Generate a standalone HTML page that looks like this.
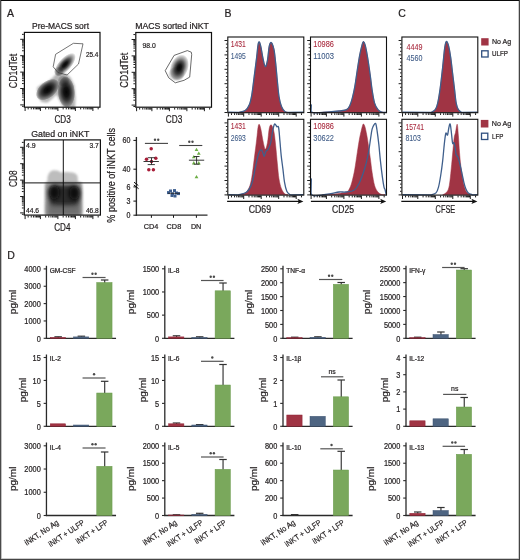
<!DOCTYPE html>
<html><head><meta charset="utf-8"><style>
html,body{margin:0;padding:0;background:#fff;width:520px;height:560px;overflow:hidden;}
body{position:relative;font-family:"Liberation Sans",sans-serif;}
</style></head><body>
<svg width="520" height="560" viewBox="0 0 520 560" style="position:absolute;left:0;top:0" font-family="Liberation Sans, sans-serif">
<defs>
<filter id="b1" x="-50%" y="-50%" width="200%" height="200%"><feGaussianBlur stdDeviation="1.2"/></filter>
<filter id="b2" x="-50%" y="-50%" width="200%" height="200%"><feGaussianBlur stdDeviation="2"/></filter>
<filter id="b3" x="-50%" y="-50%" width="200%" height="200%"><feGaussianBlur stdDeviation="3"/></filter>
<radialGradient id="gb"><stop offset="0" stop-color="#050505"/><stop offset="0.35" stop-color="#101010"/><stop offset="0.6" stop-color="#3e3e3e"/><stop offset="0.78" stop-color="#858585"/><stop offset="0.9" stop-color="#b5b5b5"/><stop offset="0.97" stop-color="#dadada"/><stop offset="1" stop-color="#ffffff"/></radialGradient>
<radialGradient id="gb2"><stop offset="0" stop-color="#050505"/><stop offset="0.22" stop-color="#141414"/><stop offset="0.48" stop-color="#505050"/><stop offset="0.7" stop-color="#9a9a9a"/><stop offset="0.88" stop-color="#d0d0d0"/><stop offset="1" stop-color="#ffffff"/></radialGradient>
<radialGradient id="gb3"><stop offset="0" stop-color="#060606"/><stop offset="0.3" stop-color="#1a1a1a"/><stop offset="0.55" stop-color="#4e4e4e"/><stop offset="0.75" stop-color="#8e8e8e"/><stop offset="0.9" stop-color="#bababa"/><stop offset="0.97" stop-color="#dedede"/><stop offset="1" stop-color="#ffffff"/></radialGradient>
<radialGradient id="gl"><stop offset="0" stop-color="#b0b0b0"/><stop offset="0.6" stop-color="#c4c4c4"/><stop offset="0.85" stop-color="#e0e0e0"/><stop offset="1" stop-color="#ffffff"/></radialGradient>
<clipPath id="cpA1"><rect x="25" y="33" width="75" height="74.5"/></clipPath>
<clipPath id="cpA2"><rect x="136" y="33" width="75" height="75.5"/></clipPath>
<clipPath id="cpA3"><rect x="25" y="140" width="75" height="75"/></clipPath>
</defs>
<rect width="520" height="560" fill="#fff"/>
<text x="7.1" y="17.2" font-size="10.5" text-anchor="start" fill="#231f20" stroke="#231f20" stroke-width="0.22">A</text>
<text x="224.6" y="17.2" font-size="10.5" text-anchor="start" fill="#231f20" stroke="#231f20" stroke-width="0.22">B</text>
<text x="398.3" y="17.2" font-size="10.5" text-anchor="start" fill="#231f20" stroke="#231f20" stroke-width="0.22">C</text>
<text x="7.2" y="258.6" font-size="10.5" text-anchor="start" fill="#231f20" stroke="#231f20" stroke-width="0.22">D</text>
<text x="60.5" y="28.8" font-size="9.1" text-anchor="middle" fill="#231f20" textLength="57" lengthAdjust="spacingAndGlyphs" stroke="#231f20" stroke-width="0.22">Pre-MACS sort</text>
<g clip-path="url(#cpA1)">
<g filter="url(#b1)">
<path d="M36.90,87.70 L38.10,96.90 L41.50,102.10 L47.30,102.70 L53.10,98.10 L56.50,94.60 L58.80,99.20 L62.30,105.60 L64.60,108.30 L75.00,108.30 L75.60,98.10 L74.40,85.40 L70.40,77.30 L65.80,73.80 L56.50,73.30 L53.10,77.30 L47.30,81.90 L41.50,84.20 Z" fill="#b4b4b4" stroke="none" stroke-width="1" stroke-linejoin="round" style="mix-blend-mode:multiply"/>
</g>
<ellipse cx="47.6" cy="89.6" rx="13.5" ry="8.2" transform="rotate(-40 47.6 89.6)" fill="url(#gb3)" style="mix-blend-mode:multiply"/>
<ellipse cx="66.3" cy="92" rx="8.7" ry="15.5" transform="rotate(-4 66.3 92)" fill="url(#gb3)" style="mix-blend-mode:multiply"/>
<ellipse cx="63.5" cy="81" rx="6" ry="6" transform="rotate(0 63.5 81)" fill="url(#gl)" style="mix-blend-mode:multiply"/>
<ellipse cx="65.0" cy="64.5" rx="6.5" ry="14.5" transform="rotate(42 65.0 64.5)" fill="url(#gb2)" style="mix-blend-mode:multiply"/>
<ellipse cx="59" cy="71.5" rx="5" ry="5" transform="rotate(0 59 71.5)" fill="url(#gl)" style="mix-blend-mode:multiply"/>
</g>
<path d="M55.60,54.30 L73.40,43.30 L83.00,43.80 L78.50,64.00 L67.10,75.00 L58.00,72.60 L53.20,66.80 Z" fill="none" stroke="#3a3a3a" stroke-width="0.7" stroke-linejoin="round"/>
<text x="85.9" y="56.6" font-size="7.5" text-anchor="start" fill="#231f20" textLength="12.5" lengthAdjust="spacingAndGlyphs" stroke="#231f20" stroke-width="0.22">25.4</text>
<rect x="24.4" y="32.4" width="75.6" height="74.8" fill="none" stroke="#111" stroke-width="1.2"/>
<line x1="20.2" y1="104.9" x2="23.8" y2="104.9" stroke="#111" stroke-width="0.95"/>
<line x1="22.0" y1="99.96" x2="23.8" y2="99.96" stroke="#111" stroke-width="0.95"/>
<line x1="22.0" y1="97.08" x2="23.8" y2="97.08" stroke="#111" stroke-width="0.95"/>
<line x1="22.0" y1="95.03" x2="23.8" y2="95.03" stroke="#111" stroke-width="0.95"/>
<line x1="22.0" y1="93.44" x2="23.8" y2="93.44" stroke="#111" stroke-width="0.95"/>
<line x1="22.0" y1="92.14" x2="23.8" y2="92.14" stroke="#111" stroke-width="0.95"/>
<line x1="22.0" y1="91.04" x2="23.8" y2="91.04" stroke="#111" stroke-width="0.95"/>
<line x1="22.0" y1="90.09" x2="23.8" y2="90.09" stroke="#111" stroke-width="0.95"/>
<line x1="22.0" y1="89.25" x2="23.8" y2="89.25" stroke="#111" stroke-width="0.95"/>
<line x1="20.2" y1="88.5" x2="23.8" y2="88.5" stroke="#111" stroke-width="0.95"/>
<line x1="22.0" y1="83.56" x2="23.8" y2="83.56" stroke="#111" stroke-width="0.95"/>
<line x1="22.0" y1="80.68" x2="23.8" y2="80.68" stroke="#111" stroke-width="0.95"/>
<line x1="22.0" y1="78.63" x2="23.8" y2="78.63" stroke="#111" stroke-width="0.95"/>
<line x1="22.0" y1="77.04" x2="23.8" y2="77.04" stroke="#111" stroke-width="0.95"/>
<line x1="22.0" y1="75.74" x2="23.8" y2="75.74" stroke="#111" stroke-width="0.95"/>
<line x1="22.0" y1="74.64" x2="23.8" y2="74.64" stroke="#111" stroke-width="0.95"/>
<line x1="22.0" y1="73.69" x2="23.8" y2="73.69" stroke="#111" stroke-width="0.95"/>
<line x1="22.0" y1="72.85" x2="23.8" y2="72.85" stroke="#111" stroke-width="0.95"/>
<line x1="20.2" y1="72.1" x2="23.8" y2="72.1" stroke="#111" stroke-width="0.95"/>
<line x1="22.0" y1="67.16" x2="23.8" y2="67.16" stroke="#111" stroke-width="0.95"/>
<line x1="22.0" y1="64.28" x2="23.8" y2="64.28" stroke="#111" stroke-width="0.95"/>
<line x1="22.0" y1="62.23" x2="23.8" y2="62.23" stroke="#111" stroke-width="0.95"/>
<line x1="22.0" y1="60.64" x2="23.8" y2="60.64" stroke="#111" stroke-width="0.95"/>
<line x1="22.0" y1="59.34" x2="23.8" y2="59.34" stroke="#111" stroke-width="0.95"/>
<line x1="22.0" y1="58.24" x2="23.8" y2="58.24" stroke="#111" stroke-width="0.95"/>
<line x1="22.0" y1="57.29" x2="23.8" y2="57.29" stroke="#111" stroke-width="0.95"/>
<line x1="22.0" y1="56.45" x2="23.8" y2="56.45" stroke="#111" stroke-width="0.95"/>
<line x1="20.2" y1="55.7" x2="23.8" y2="55.7" stroke="#111" stroke-width="0.95"/>
<line x1="22.0" y1="50.76" x2="23.8" y2="50.76" stroke="#111" stroke-width="0.95"/>
<line x1="22.0" y1="47.88" x2="23.8" y2="47.88" stroke="#111" stroke-width="0.95"/>
<line x1="22.0" y1="45.83" x2="23.8" y2="45.83" stroke="#111" stroke-width="0.95"/>
<line x1="22.0" y1="44.24" x2="23.8" y2="44.24" stroke="#111" stroke-width="0.95"/>
<line x1="22.0" y1="42.94" x2="23.8" y2="42.94" stroke="#111" stroke-width="0.95"/>
<line x1="22.0" y1="41.84" x2="23.8" y2="41.84" stroke="#111" stroke-width="0.95"/>
<line x1="22.0" y1="40.89" x2="23.8" y2="40.89" stroke="#111" stroke-width="0.95"/>
<line x1="22.0" y1="40.05" x2="23.8" y2="40.05" stroke="#111" stroke-width="0.95"/>
<line x1="20.2" y1="39.3" x2="23.8" y2="39.3" stroke="#111" stroke-width="0.95"/>
<line x1="22.0" y1="34.36" x2="23.8" y2="34.36" stroke="#111" stroke-width="0.95"/>
<line x1="22.0" y1="106.3" x2="23.8" y2="106.3" stroke="#111" stroke-width="0.95"/>
<line x1="25.1" y1="107.6" x2="25.1" y2="111.0" stroke="#111" stroke-width="0.95"/>
<line x1="28.17" y1="107.6" x2="28.17" y2="109.39999999999999" stroke="#111" stroke-width="0.95"/>
<line x1="31.25" y1="107.6" x2="31.25" y2="109.39999999999999" stroke="#111" stroke-width="0.95"/>
<line x1="33.44" y1="107.6" x2="33.44" y2="109.39999999999999" stroke="#111" stroke-width="0.95"/>
<line x1="35.13" y1="107.6" x2="35.13" y2="109.39999999999999" stroke="#111" stroke-width="0.95"/>
<line x1="36.52" y1="107.6" x2="36.52" y2="109.39999999999999" stroke="#111" stroke-width="0.95"/>
<line x1="37.69" y1="107.6" x2="37.69" y2="109.39999999999999" stroke="#111" stroke-width="0.95"/>
<line x1="38.7" y1="107.6" x2="38.7" y2="109.39999999999999" stroke="#111" stroke-width="0.95"/>
<line x1="39.6" y1="107.6" x2="39.6" y2="109.39999999999999" stroke="#111" stroke-width="0.95"/>
<line x1="40.4" y1="107.6" x2="40.4" y2="111.0" stroke="#111" stroke-width="0.95"/>
<line x1="45.67" y1="107.6" x2="45.67" y2="109.39999999999999" stroke="#111" stroke-width="0.95"/>
<line x1="48.75" y1="107.6" x2="48.75" y2="109.39999999999999" stroke="#111" stroke-width="0.95"/>
<line x1="50.94" y1="107.6" x2="50.94" y2="109.39999999999999" stroke="#111" stroke-width="0.95"/>
<line x1="52.63" y1="107.6" x2="52.63" y2="109.39999999999999" stroke="#111" stroke-width="0.95"/>
<line x1="54.02" y1="107.6" x2="54.02" y2="109.39999999999999" stroke="#111" stroke-width="0.95"/>
<line x1="55.19" y1="107.6" x2="55.19" y2="109.39999999999999" stroke="#111" stroke-width="0.95"/>
<line x1="56.2" y1="107.6" x2="56.2" y2="109.39999999999999" stroke="#111" stroke-width="0.95"/>
<line x1="57.1" y1="107.6" x2="57.1" y2="109.39999999999999" stroke="#111" stroke-width="0.95"/>
<line x1="57.9" y1="107.6" x2="57.9" y2="111.0" stroke="#111" stroke-width="0.95"/>
<line x1="63.17" y1="107.6" x2="63.17" y2="109.39999999999999" stroke="#111" stroke-width="0.95"/>
<line x1="66.25" y1="107.6" x2="66.25" y2="109.39999999999999" stroke="#111" stroke-width="0.95"/>
<line x1="68.44" y1="107.6" x2="68.44" y2="109.39999999999999" stroke="#111" stroke-width="0.95"/>
<line x1="70.13" y1="107.6" x2="70.13" y2="109.39999999999999" stroke="#111" stroke-width="0.95"/>
<line x1="71.52" y1="107.6" x2="71.52" y2="109.39999999999999" stroke="#111" stroke-width="0.95"/>
<line x1="72.69" y1="107.6" x2="72.69" y2="109.39999999999999" stroke="#111" stroke-width="0.95"/>
<line x1="73.7" y1="107.6" x2="73.7" y2="109.39999999999999" stroke="#111" stroke-width="0.95"/>
<line x1="74.6" y1="107.6" x2="74.6" y2="109.39999999999999" stroke="#111" stroke-width="0.95"/>
<line x1="75.4" y1="107.6" x2="75.4" y2="111.0" stroke="#111" stroke-width="0.95"/>
<line x1="80.67" y1="107.6" x2="80.67" y2="109.39999999999999" stroke="#111" stroke-width="0.95"/>
<line x1="83.75" y1="107.6" x2="83.75" y2="109.39999999999999" stroke="#111" stroke-width="0.95"/>
<line x1="85.94" y1="107.6" x2="85.94" y2="109.39999999999999" stroke="#111" stroke-width="0.95"/>
<line x1="87.63" y1="107.6" x2="87.63" y2="109.39999999999999" stroke="#111" stroke-width="0.95"/>
<line x1="89.02" y1="107.6" x2="89.02" y2="109.39999999999999" stroke="#111" stroke-width="0.95"/>
<line x1="90.19" y1="107.6" x2="90.19" y2="109.39999999999999" stroke="#111" stroke-width="0.95"/>
<line x1="91.2" y1="107.6" x2="91.2" y2="109.39999999999999" stroke="#111" stroke-width="0.95"/>
<line x1="92.1" y1="107.6" x2="92.1" y2="109.39999999999999" stroke="#111" stroke-width="0.95"/>
<line x1="92.9" y1="107.6" x2="92.9" y2="111.0" stroke="#111" stroke-width="0.95"/>
<line x1="98.17" y1="107.6" x2="98.17" y2="109.39999999999999" stroke="#111" stroke-width="0.95"/>
<text x="62.6" y="123" font-size="10" text-anchor="middle" fill="#231f20" textLength="16.3" lengthAdjust="spacingAndGlyphs" stroke="#231f20" stroke-width="0.22">CD3</text>
<text x="17.0" y="71.0" font-size="10" text-anchor="middle" fill="#231f20" textLength="34.5" lengthAdjust="spacingAndGlyphs" transform="rotate(-90 17.0 71.0)" stroke="#231f20" stroke-width="0.22">CD1dTet</text>
<text x="172" y="29.0" font-size="9.1" text-anchor="middle" fill="#231f20" textLength="73.7" lengthAdjust="spacingAndGlyphs" stroke="#231f20" stroke-width="0.22">MACS sorted iNKT</text>
<g clip-path="url(#cpA2)">
<ellipse cx="176.5" cy="74" rx="8.5" ry="7.5" transform="rotate(0 176.5 74)" fill="url(#gl)" style="mix-blend-mode:multiply"/>
<ellipse cx="179.3" cy="67.5" rx="9" ry="13.5" transform="rotate(20 179.3 67.5)" fill="url(#gb2)" style="mix-blend-mode:multiply"/>
</g>
<path d="M165.20,70.70 L174.10,55.40 L187.30,50.60 L191.30,52.20 L191.70,54.60 L189.70,77.10 L184.10,80.30 L175.30,82.80 L168.80,77.90 Z" fill="none" stroke="#3a3a3a" stroke-width="0.75" stroke-linejoin="round"/>
<text x="142.5" y="48.4" font-size="7.5" text-anchor="start" fill="#231f20" textLength="13.3" lengthAdjust="spacingAndGlyphs" stroke="#231f20" stroke-width="0.22">98.0</text>
<rect x="135.8" y="32.5" width="75.7" height="74.7" fill="none" stroke="#111" stroke-width="1.2"/>
<line x1="131.6" y1="105.1" x2="135.2" y2="105.1" stroke="#111" stroke-width="0.95"/>
<line x1="133.39999999999998" y1="100.16" x2="135.2" y2="100.16" stroke="#111" stroke-width="0.95"/>
<line x1="133.39999999999998" y1="97.28" x2="135.2" y2="97.28" stroke="#111" stroke-width="0.95"/>
<line x1="133.39999999999998" y1="95.23" x2="135.2" y2="95.23" stroke="#111" stroke-width="0.95"/>
<line x1="133.39999999999998" y1="93.64" x2="135.2" y2="93.64" stroke="#111" stroke-width="0.95"/>
<line x1="133.39999999999998" y1="92.34" x2="135.2" y2="92.34" stroke="#111" stroke-width="0.95"/>
<line x1="133.39999999999998" y1="91.24" x2="135.2" y2="91.24" stroke="#111" stroke-width="0.95"/>
<line x1="133.39999999999998" y1="90.29" x2="135.2" y2="90.29" stroke="#111" stroke-width="0.95"/>
<line x1="133.39999999999998" y1="89.45" x2="135.2" y2="89.45" stroke="#111" stroke-width="0.95"/>
<line x1="131.6" y1="88.7" x2="135.2" y2="88.7" stroke="#111" stroke-width="0.95"/>
<line x1="133.39999999999998" y1="83.76" x2="135.2" y2="83.76" stroke="#111" stroke-width="0.95"/>
<line x1="133.39999999999998" y1="80.88" x2="135.2" y2="80.88" stroke="#111" stroke-width="0.95"/>
<line x1="133.39999999999998" y1="78.83" x2="135.2" y2="78.83" stroke="#111" stroke-width="0.95"/>
<line x1="133.39999999999998" y1="77.24" x2="135.2" y2="77.24" stroke="#111" stroke-width="0.95"/>
<line x1="133.39999999999998" y1="75.94" x2="135.2" y2="75.94" stroke="#111" stroke-width="0.95"/>
<line x1="133.39999999999998" y1="74.84" x2="135.2" y2="74.84" stroke="#111" stroke-width="0.95"/>
<line x1="133.39999999999998" y1="73.89" x2="135.2" y2="73.89" stroke="#111" stroke-width="0.95"/>
<line x1="133.39999999999998" y1="73.05" x2="135.2" y2="73.05" stroke="#111" stroke-width="0.95"/>
<line x1="131.6" y1="72.3" x2="135.2" y2="72.3" stroke="#111" stroke-width="0.95"/>
<line x1="133.39999999999998" y1="67.36" x2="135.2" y2="67.36" stroke="#111" stroke-width="0.95"/>
<line x1="133.39999999999998" y1="64.48" x2="135.2" y2="64.48" stroke="#111" stroke-width="0.95"/>
<line x1="133.39999999999998" y1="62.43" x2="135.2" y2="62.43" stroke="#111" stroke-width="0.95"/>
<line x1="133.39999999999998" y1="60.84" x2="135.2" y2="60.84" stroke="#111" stroke-width="0.95"/>
<line x1="133.39999999999998" y1="59.54" x2="135.2" y2="59.54" stroke="#111" stroke-width="0.95"/>
<line x1="133.39999999999998" y1="58.44" x2="135.2" y2="58.44" stroke="#111" stroke-width="0.95"/>
<line x1="133.39999999999998" y1="57.49" x2="135.2" y2="57.49" stroke="#111" stroke-width="0.95"/>
<line x1="133.39999999999998" y1="56.65" x2="135.2" y2="56.65" stroke="#111" stroke-width="0.95"/>
<line x1="131.6" y1="55.9" x2="135.2" y2="55.9" stroke="#111" stroke-width="0.95"/>
<line x1="133.39999999999998" y1="50.96" x2="135.2" y2="50.96" stroke="#111" stroke-width="0.95"/>
<line x1="133.39999999999998" y1="48.08" x2="135.2" y2="48.08" stroke="#111" stroke-width="0.95"/>
<line x1="133.39999999999998" y1="46.03" x2="135.2" y2="46.03" stroke="#111" stroke-width="0.95"/>
<line x1="133.39999999999998" y1="44.44" x2="135.2" y2="44.44" stroke="#111" stroke-width="0.95"/>
<line x1="133.39999999999998" y1="43.14" x2="135.2" y2="43.14" stroke="#111" stroke-width="0.95"/>
<line x1="133.39999999999998" y1="42.04" x2="135.2" y2="42.04" stroke="#111" stroke-width="0.95"/>
<line x1="133.39999999999998" y1="41.09" x2="135.2" y2="41.09" stroke="#111" stroke-width="0.95"/>
<line x1="133.39999999999998" y1="40.25" x2="135.2" y2="40.25" stroke="#111" stroke-width="0.95"/>
<line x1="131.6" y1="39.5" x2="135.2" y2="39.5" stroke="#111" stroke-width="0.95"/>
<line x1="133.39999999999998" y1="34.56" x2="135.2" y2="34.56" stroke="#111" stroke-width="0.95"/>
<line x1="133.39999999999998" y1="106.5" x2="135.2" y2="106.5" stroke="#111" stroke-width="0.95"/>
<line x1="136.6" y1="107.8" x2="136.6" y2="111.2" stroke="#111" stroke-width="0.95"/>
<line x1="139.67" y1="107.8" x2="139.67" y2="109.6" stroke="#111" stroke-width="0.95"/>
<line x1="142.75" y1="107.8" x2="142.75" y2="109.6" stroke="#111" stroke-width="0.95"/>
<line x1="144.94" y1="107.8" x2="144.94" y2="109.6" stroke="#111" stroke-width="0.95"/>
<line x1="146.63" y1="107.8" x2="146.63" y2="109.6" stroke="#111" stroke-width="0.95"/>
<line x1="148.02" y1="107.8" x2="148.02" y2="109.6" stroke="#111" stroke-width="0.95"/>
<line x1="149.19" y1="107.8" x2="149.19" y2="109.6" stroke="#111" stroke-width="0.95"/>
<line x1="150.2" y1="107.8" x2="150.2" y2="109.6" stroke="#111" stroke-width="0.95"/>
<line x1="151.1" y1="107.8" x2="151.1" y2="109.6" stroke="#111" stroke-width="0.95"/>
<line x1="151.9" y1="107.8" x2="151.9" y2="111.2" stroke="#111" stroke-width="0.95"/>
<line x1="157.17" y1="107.8" x2="157.17" y2="109.6" stroke="#111" stroke-width="0.95"/>
<line x1="160.25" y1="107.8" x2="160.25" y2="109.6" stroke="#111" stroke-width="0.95"/>
<line x1="162.44" y1="107.8" x2="162.44" y2="109.6" stroke="#111" stroke-width="0.95"/>
<line x1="164.13" y1="107.8" x2="164.13" y2="109.6" stroke="#111" stroke-width="0.95"/>
<line x1="165.52" y1="107.8" x2="165.52" y2="109.6" stroke="#111" stroke-width="0.95"/>
<line x1="166.69" y1="107.8" x2="166.69" y2="109.6" stroke="#111" stroke-width="0.95"/>
<line x1="167.7" y1="107.8" x2="167.7" y2="109.6" stroke="#111" stroke-width="0.95"/>
<line x1="168.6" y1="107.8" x2="168.6" y2="109.6" stroke="#111" stroke-width="0.95"/>
<line x1="169.4" y1="107.8" x2="169.4" y2="111.2" stroke="#111" stroke-width="0.95"/>
<line x1="174.67" y1="107.8" x2="174.67" y2="109.6" stroke="#111" stroke-width="0.95"/>
<line x1="177.75" y1="107.8" x2="177.75" y2="109.6" stroke="#111" stroke-width="0.95"/>
<line x1="179.94" y1="107.8" x2="179.94" y2="109.6" stroke="#111" stroke-width="0.95"/>
<line x1="181.63" y1="107.8" x2="181.63" y2="109.6" stroke="#111" stroke-width="0.95"/>
<line x1="183.02" y1="107.8" x2="183.02" y2="109.6" stroke="#111" stroke-width="0.95"/>
<line x1="184.19" y1="107.8" x2="184.19" y2="109.6" stroke="#111" stroke-width="0.95"/>
<line x1="185.2" y1="107.8" x2="185.2" y2="109.6" stroke="#111" stroke-width="0.95"/>
<line x1="186.1" y1="107.8" x2="186.1" y2="109.6" stroke="#111" stroke-width="0.95"/>
<line x1="186.9" y1="107.8" x2="186.9" y2="111.2" stroke="#111" stroke-width="0.95"/>
<line x1="192.17" y1="107.8" x2="192.17" y2="109.6" stroke="#111" stroke-width="0.95"/>
<line x1="195.25" y1="107.8" x2="195.25" y2="109.6" stroke="#111" stroke-width="0.95"/>
<line x1="197.44" y1="107.8" x2="197.44" y2="109.6" stroke="#111" stroke-width="0.95"/>
<line x1="199.13" y1="107.8" x2="199.13" y2="109.6" stroke="#111" stroke-width="0.95"/>
<line x1="200.52" y1="107.8" x2="200.52" y2="109.6" stroke="#111" stroke-width="0.95"/>
<line x1="201.69" y1="107.8" x2="201.69" y2="109.6" stroke="#111" stroke-width="0.95"/>
<line x1="202.7" y1="107.8" x2="202.7" y2="109.6" stroke="#111" stroke-width="0.95"/>
<line x1="203.6" y1="107.8" x2="203.6" y2="109.6" stroke="#111" stroke-width="0.95"/>
<line x1="204.4" y1="107.8" x2="204.4" y2="111.2" stroke="#111" stroke-width="0.95"/>
<line x1="209.67" y1="107.8" x2="209.67" y2="109.6" stroke="#111" stroke-width="0.95"/>
<text x="174" y="123" font-size="10" text-anchor="middle" fill="#231f20" textLength="16.5" lengthAdjust="spacingAndGlyphs" stroke="#231f20" stroke-width="0.22">CD3</text>
<text x="128.3" y="70.3" font-size="10" text-anchor="middle" fill="#231f20" textLength="35" lengthAdjust="spacingAndGlyphs" transform="rotate(-90 128.3 70.3)" stroke="#231f20" stroke-width="0.22">CD1dTet</text>
<text x="60.3" y="136.8" font-size="9.1" text-anchor="middle" fill="#231f20" textLength="58.3" lengthAdjust="spacingAndGlyphs" stroke="#231f20" stroke-width="0.22">Gated on iNKT</text>
<g clip-path="url(#cpA3)">
<g filter="url(#b1)">
<path d="M47.2,184 L47.5,177 Q49,170.5 54,170.3 Q58.5,170.3 61,172.5 Q65,171.5 70,172.2 Q76,172.5 77.5,176 L78.2,184 Z" fill="#bdbdbd"/>
<rect x="44.8" y="182" width="37.5" height="34" rx="3" fill="#a0a0a0"/>
</g>
<g filter="url(#b2)">
<rect x="47.5" y="202" width="33" height="14" rx="2" fill="#6e6e6e"/>
<rect x="48.5" y="185" width="31.5" height="21" rx="6" fill="#2c2c2c"/>
</g>
<g filter="url(#b2)">
<ellipse cx="54.4" cy="192.5" rx="5.2" ry="7" fill="#080808"/>
<ellipse cx="74.1" cy="193" rx="5.2" ry="7" fill="#080808"/>
</g>
</g>
<line x1="63.3" y1="140" x2="63.3" y2="215" stroke="#111" stroke-width="1"/>
<line x1="24.5" y1="182.9" x2="100.4" y2="182.9" stroke="#111" stroke-width="1"/>
<text x="26.0" y="147.7" font-size="7.5" text-anchor="start" fill="#231f20" textLength="9.7" lengthAdjust="spacingAndGlyphs" stroke="#231f20" stroke-width="0.22">4.9</text>
<text x="89.5" y="147.7" font-size="7.5" text-anchor="start" fill="#231f20" textLength="9.3" lengthAdjust="spacingAndGlyphs" stroke="#231f20" stroke-width="0.22">3.7</text>
<text x="26.0" y="213.3" font-size="7.5" text-anchor="start" fill="#231f20" textLength="13.1" lengthAdjust="spacingAndGlyphs" stroke="#231f20" stroke-width="0.22">44.6</text>
<text x="85.9" y="213.3" font-size="7.5" text-anchor="start" fill="#231f20" textLength="12.9" lengthAdjust="spacingAndGlyphs" stroke="#231f20" stroke-width="0.22">46.8</text>
<rect x="24.3" y="139.9" width="76.1" height="75.2" fill="none" stroke="#111" stroke-width="1.2"/>
<line x1="20.099999999999998" y1="212.9" x2="23.7" y2="212.9" stroke="#111" stroke-width="0.95"/>
<line x1="21.9" y1="207.96" x2="23.7" y2="207.96" stroke="#111" stroke-width="0.95"/>
<line x1="21.9" y1="205.08" x2="23.7" y2="205.08" stroke="#111" stroke-width="0.95"/>
<line x1="21.9" y1="203.03" x2="23.7" y2="203.03" stroke="#111" stroke-width="0.95"/>
<line x1="21.9" y1="201.44" x2="23.7" y2="201.44" stroke="#111" stroke-width="0.95"/>
<line x1="21.9" y1="200.14" x2="23.7" y2="200.14" stroke="#111" stroke-width="0.95"/>
<line x1="21.9" y1="199.04" x2="23.7" y2="199.04" stroke="#111" stroke-width="0.95"/>
<line x1="21.9" y1="198.09" x2="23.7" y2="198.09" stroke="#111" stroke-width="0.95"/>
<line x1="21.9" y1="197.25" x2="23.7" y2="197.25" stroke="#111" stroke-width="0.95"/>
<line x1="20.099999999999998" y1="196.5" x2="23.7" y2="196.5" stroke="#111" stroke-width="0.95"/>
<line x1="21.9" y1="191.56" x2="23.7" y2="191.56" stroke="#111" stroke-width="0.95"/>
<line x1="21.9" y1="188.68" x2="23.7" y2="188.68" stroke="#111" stroke-width="0.95"/>
<line x1="21.9" y1="186.63" x2="23.7" y2="186.63" stroke="#111" stroke-width="0.95"/>
<line x1="21.9" y1="185.04" x2="23.7" y2="185.04" stroke="#111" stroke-width="0.95"/>
<line x1="21.9" y1="183.74" x2="23.7" y2="183.74" stroke="#111" stroke-width="0.95"/>
<line x1="21.9" y1="182.64" x2="23.7" y2="182.64" stroke="#111" stroke-width="0.95"/>
<line x1="21.9" y1="181.69" x2="23.7" y2="181.69" stroke="#111" stroke-width="0.95"/>
<line x1="21.9" y1="180.85" x2="23.7" y2="180.85" stroke="#111" stroke-width="0.95"/>
<line x1="20.099999999999998" y1="180.1" x2="23.7" y2="180.1" stroke="#111" stroke-width="0.95"/>
<line x1="21.9" y1="175.16" x2="23.7" y2="175.16" stroke="#111" stroke-width="0.95"/>
<line x1="21.9" y1="172.28" x2="23.7" y2="172.28" stroke="#111" stroke-width="0.95"/>
<line x1="21.9" y1="170.23" x2="23.7" y2="170.23" stroke="#111" stroke-width="0.95"/>
<line x1="21.9" y1="168.64" x2="23.7" y2="168.64" stroke="#111" stroke-width="0.95"/>
<line x1="21.9" y1="167.34" x2="23.7" y2="167.34" stroke="#111" stroke-width="0.95"/>
<line x1="21.9" y1="166.24" x2="23.7" y2="166.24" stroke="#111" stroke-width="0.95"/>
<line x1="21.9" y1="165.29" x2="23.7" y2="165.29" stroke="#111" stroke-width="0.95"/>
<line x1="21.9" y1="164.45" x2="23.7" y2="164.45" stroke="#111" stroke-width="0.95"/>
<line x1="20.099999999999998" y1="163.7" x2="23.7" y2="163.7" stroke="#111" stroke-width="0.95"/>
<line x1="21.9" y1="158.76" x2="23.7" y2="158.76" stroke="#111" stroke-width="0.95"/>
<line x1="21.9" y1="155.88" x2="23.7" y2="155.88" stroke="#111" stroke-width="0.95"/>
<line x1="21.9" y1="153.83" x2="23.7" y2="153.83" stroke="#111" stroke-width="0.95"/>
<line x1="21.9" y1="152.24" x2="23.7" y2="152.24" stroke="#111" stroke-width="0.95"/>
<line x1="21.9" y1="150.94" x2="23.7" y2="150.94" stroke="#111" stroke-width="0.95"/>
<line x1="21.9" y1="149.84" x2="23.7" y2="149.84" stroke="#111" stroke-width="0.95"/>
<line x1="21.9" y1="148.89" x2="23.7" y2="148.89" stroke="#111" stroke-width="0.95"/>
<line x1="21.9" y1="148.05" x2="23.7" y2="148.05" stroke="#111" stroke-width="0.95"/>
<line x1="20.099999999999998" y1="147.3" x2="23.7" y2="147.3" stroke="#111" stroke-width="0.95"/>
<line x1="21.9" y1="142.36" x2="23.7" y2="142.36" stroke="#111" stroke-width="0.95"/>
<line x1="21.9" y1="214.3" x2="23.7" y2="214.3" stroke="#111" stroke-width="0.95"/>
<line x1="25.1" y1="215.7" x2="25.1" y2="219.1" stroke="#111" stroke-width="0.95"/>
<line x1="28.17" y1="215.7" x2="28.17" y2="217.5" stroke="#111" stroke-width="0.95"/>
<line x1="31.25" y1="215.7" x2="31.25" y2="217.5" stroke="#111" stroke-width="0.95"/>
<line x1="33.44" y1="215.7" x2="33.44" y2="217.5" stroke="#111" stroke-width="0.95"/>
<line x1="35.13" y1="215.7" x2="35.13" y2="217.5" stroke="#111" stroke-width="0.95"/>
<line x1="36.52" y1="215.7" x2="36.52" y2="217.5" stroke="#111" stroke-width="0.95"/>
<line x1="37.69" y1="215.7" x2="37.69" y2="217.5" stroke="#111" stroke-width="0.95"/>
<line x1="38.7" y1="215.7" x2="38.7" y2="217.5" stroke="#111" stroke-width="0.95"/>
<line x1="39.6" y1="215.7" x2="39.6" y2="217.5" stroke="#111" stroke-width="0.95"/>
<line x1="40.4" y1="215.7" x2="40.4" y2="219.1" stroke="#111" stroke-width="0.95"/>
<line x1="45.67" y1="215.7" x2="45.67" y2="217.5" stroke="#111" stroke-width="0.95"/>
<line x1="48.75" y1="215.7" x2="48.75" y2="217.5" stroke="#111" stroke-width="0.95"/>
<line x1="50.94" y1="215.7" x2="50.94" y2="217.5" stroke="#111" stroke-width="0.95"/>
<line x1="52.63" y1="215.7" x2="52.63" y2="217.5" stroke="#111" stroke-width="0.95"/>
<line x1="54.02" y1="215.7" x2="54.02" y2="217.5" stroke="#111" stroke-width="0.95"/>
<line x1="55.19" y1="215.7" x2="55.19" y2="217.5" stroke="#111" stroke-width="0.95"/>
<line x1="56.2" y1="215.7" x2="56.2" y2="217.5" stroke="#111" stroke-width="0.95"/>
<line x1="57.1" y1="215.7" x2="57.1" y2="217.5" stroke="#111" stroke-width="0.95"/>
<line x1="57.9" y1="215.7" x2="57.9" y2="219.1" stroke="#111" stroke-width="0.95"/>
<line x1="63.17" y1="215.7" x2="63.17" y2="217.5" stroke="#111" stroke-width="0.95"/>
<line x1="66.25" y1="215.7" x2="66.25" y2="217.5" stroke="#111" stroke-width="0.95"/>
<line x1="68.44" y1="215.7" x2="68.44" y2="217.5" stroke="#111" stroke-width="0.95"/>
<line x1="70.13" y1="215.7" x2="70.13" y2="217.5" stroke="#111" stroke-width="0.95"/>
<line x1="71.52" y1="215.7" x2="71.52" y2="217.5" stroke="#111" stroke-width="0.95"/>
<line x1="72.69" y1="215.7" x2="72.69" y2="217.5" stroke="#111" stroke-width="0.95"/>
<line x1="73.7" y1="215.7" x2="73.7" y2="217.5" stroke="#111" stroke-width="0.95"/>
<line x1="74.6" y1="215.7" x2="74.6" y2="217.5" stroke="#111" stroke-width="0.95"/>
<line x1="75.4" y1="215.7" x2="75.4" y2="219.1" stroke="#111" stroke-width="0.95"/>
<line x1="80.67" y1="215.7" x2="80.67" y2="217.5" stroke="#111" stroke-width="0.95"/>
<line x1="83.75" y1="215.7" x2="83.75" y2="217.5" stroke="#111" stroke-width="0.95"/>
<line x1="85.94" y1="215.7" x2="85.94" y2="217.5" stroke="#111" stroke-width="0.95"/>
<line x1="87.63" y1="215.7" x2="87.63" y2="217.5" stroke="#111" stroke-width="0.95"/>
<line x1="89.02" y1="215.7" x2="89.02" y2="217.5" stroke="#111" stroke-width="0.95"/>
<line x1="90.19" y1="215.7" x2="90.19" y2="217.5" stroke="#111" stroke-width="0.95"/>
<line x1="91.2" y1="215.7" x2="91.2" y2="217.5" stroke="#111" stroke-width="0.95"/>
<line x1="92.1" y1="215.7" x2="92.1" y2="217.5" stroke="#111" stroke-width="0.95"/>
<line x1="92.9" y1="215.7" x2="92.9" y2="219.1" stroke="#111" stroke-width="0.95"/>
<line x1="98.17" y1="215.7" x2="98.17" y2="217.5" stroke="#111" stroke-width="0.95"/>
<text x="62.3" y="230.8" font-size="10" text-anchor="middle" fill="#231f20" textLength="16.2" lengthAdjust="spacingAndGlyphs" stroke="#231f20" stroke-width="0.22">CD4</text>
<text x="17.1" y="178.6" font-size="10" text-anchor="middle" fill="#231f20" textLength="16.6" lengthAdjust="spacingAndGlyphs" transform="rotate(-90 17.1 178.6)" stroke="#231f20" stroke-width="0.22">CD8</text>
<text x="115.4" y="175.3" font-size="10" text-anchor="middle" fill="#231f20" textLength="94.7" lengthAdjust="spacingAndGlyphs" transform="rotate(-90 115.4 175.3)" stroke="#231f20" stroke-width="0.22">% positive of iNKT cells</text>
<line x1="136.4" y1="137" x2="136.4" y2="215.8" stroke="#2a2a2a" stroke-width="1.35"/>
<line x1="135.8" y1="215.2" x2="207.5" y2="215.2" stroke="#2a2a2a" stroke-width="1.3"/>
<line x1="134.0" y1="182.2" x2="138.3" y2="185.5" stroke="#111" stroke-width="1.0"/>
<line x1="133.8" y1="185.0" x2="138.6" y2="188.7" stroke="#111" stroke-width="1.0"/>
<line x1="133.4" y1="140.4" x2="136.4" y2="140.4" stroke="#111" stroke-width="1"/>
<text x="130.4" y="143.3" font-size="8.2" text-anchor="end" fill="#231f20" textLength="7.9" lengthAdjust="spacingAndGlyphs" stroke="#231f20" stroke-width="0.22">60</text>
<line x1="133.4" y1="169.2" x2="136.4" y2="169.2" stroke="#111" stroke-width="1"/>
<text x="130.4" y="172.1" font-size="8.2" text-anchor="end" fill="#231f20" textLength="7.9" lengthAdjust="spacingAndGlyphs" stroke="#231f20" stroke-width="0.22">40</text>
<line x1="133.4" y1="186.9" x2="136.4" y2="186.9" stroke="#111" stroke-width="1"/>
<text x="130.4" y="189.8" font-size="8.2" text-anchor="end" fill="#231f20" textLength="3.95" lengthAdjust="spacingAndGlyphs" stroke="#231f20" stroke-width="0.22">6</text>
<line x1="133.4" y1="201.1" x2="136.4" y2="201.1" stroke="#111" stroke-width="1"/>
<text x="130.4" y="204.0" font-size="8.2" text-anchor="end" fill="#231f20" textLength="3.95" lengthAdjust="spacingAndGlyphs" stroke="#231f20" stroke-width="0.22">3</text>
<line x1="133.4" y1="215.2" x2="136.4" y2="215.2" stroke="#111" stroke-width="1"/>
<text x="130.4" y="218.1" font-size="8.2" text-anchor="end" fill="#231f20" textLength="3.95" lengthAdjust="spacingAndGlyphs" stroke="#231f20" stroke-width="0.22">0</text>
<line x1="151.4" y1="215.2" x2="151.4" y2="217.8" stroke="#111" stroke-width="1"/>
<line x1="173.5" y1="215.2" x2="173.5" y2="217.8" stroke="#111" stroke-width="1"/>
<line x1="196.4" y1="215.2" x2="196.4" y2="217.8" stroke="#111" stroke-width="1"/>
<text x="151.1" y="229.0" font-size="7.7" text-anchor="middle" fill="#231f20" textLength="14.7" lengthAdjust="spacingAndGlyphs" stroke="#231f20" stroke-width="0.22">CD4</text>
<text x="173.9" y="229.0" font-size="7.7" text-anchor="middle" fill="#231f20" textLength="14.6" lengthAdjust="spacingAndGlyphs" stroke="#231f20" stroke-width="0.22">CD8</text>
<text x="196.1" y="229.0" font-size="7.7" text-anchor="middle" fill="#231f20" textLength="10.4" lengthAdjust="spacingAndGlyphs" stroke="#231f20" stroke-width="0.22">DN</text>
<line x1="144.9" y1="143.4" x2="168" y2="143.4" stroke="#444" stroke-width="1.1"/>
<circle cx="155.0" cy="139.8" r="1.2" fill="#4a4a4a"/><circle cx="158.2" cy="139.8" r="1.2" fill="#4a4a4a"/>
<line x1="179.2" y1="145.5" x2="202.3" y2="145.5" stroke="#444" stroke-width="1.1"/>
<circle cx="189.3" cy="141.8" r="1.2" fill="#4a4a4a"/><circle cx="192.5" cy="141.8" r="1.2" fill="#4a4a4a"/>
<circle cx="151.2" cy="148.8" r="1.75" fill="#a81d38"/>
<circle cx="146.5" cy="159.2" r="1.75" fill="#a81d38"/>
<circle cx="155.8" cy="158.2" r="1.75" fill="#a81d38"/>
<circle cx="151.5" cy="161.5" r="1.75" fill="#a81d38"/>
<circle cx="148.8" cy="169.7" r="1.75" fill="#a81d38"/>
<circle cx="153.4" cy="169.7" r="1.75" fill="#a81d38"/>
<line x1="143.5" y1="161.5" x2="158.9" y2="161.5" stroke="#222" stroke-width="0.9"/>
<line x1="151.5" y1="157.7" x2="151.5" y2="164.6" stroke="#222" stroke-width="0.9"/>
<line x1="147.7" y1="157.7" x2="154.9" y2="157.7" stroke="#222" stroke-width="0.9"/>
<line x1="147.7" y1="164.6" x2="154.9" y2="164.6" stroke="#222" stroke-width="0.9"/>
<path d="M196.5,147.7 L198.4,151.1 L194.6,151.1 Z" fill="#6dae45"/>
<path d="M198.8,151.4 L200.70000000000002,154.8 L196.9,154.8 Z" fill="#6dae45"/>
<path d="M193.8,154.9 L195.70000000000002,158.3 L191.9,158.3 Z" fill="#6dae45"/>
<path d="M193.8,161.1 L195.70000000000002,164.5 L191.9,164.5 Z" fill="#6dae45"/>
<path d="M198.8,161.1 L200.70000000000002,164.5 L196.9,164.5 Z" fill="#6dae45"/>
<path d="M196.5,174.9 L198.4,178.3 L194.6,178.3 Z" fill="#6dae45"/>
<line x1="188.9" y1="160.2" x2="204.2" y2="160.2" stroke="#222" stroke-width="0.9"/>
<line x1="196.6" y1="156.5" x2="196.6" y2="164.2" stroke="#222" stroke-width="0.9"/>
<line x1="193.8" y1="156.5" x2="199.5" y2="156.5" stroke="#222" stroke-width="0.9"/>
<line x1="193.8" y1="164.2" x2="199.5" y2="164.2" stroke="#222" stroke-width="0.9"/>
<rect x="167.0" y="191.1" width="3" height="3" fill="#3e5f8f"/>
<rect x="169.0" y="189.5" width="3" height="3" fill="#3e5f8f"/>
<rect x="171.0" y="192.3" width="3" height="3" fill="#3e5f8f"/>
<rect x="173.0" y="189.1" width="3" height="3" fill="#3e5f8f"/>
<rect x="173.5" y="194.5" width="3" height="3" fill="#3e5f8f"/>
<rect x="175.0" y="191.5" width="3" height="3" fill="#3e5f8f"/>
<rect x="177.0" y="192.1" width="3" height="3" fill="#3e5f8f"/>
<rect x="170.5" y="194.0" width="3" height="3" fill="#3e5f8f"/>
<line x1="168.0" y1="193.3" x2="180.0" y2="193.3" stroke="#222" stroke-width="0.8"/>
<path d="M238.50,112.3 L238.50,112.50 C239.62,112.17 243.40,111.78 245.20,110.50 C247.00,109.22 248.20,107.42 249.30,104.80 C250.40,102.18 250.98,99.50 251.80,94.80 C252.62,90.10 253.38,82.93 254.20,76.60 C255.02,70.27 256.07,62.03 256.70,56.80 C257.33,51.57 257.58,47.68 258.00,45.20 C258.42,42.72 258.72,41.62 259.20,41.90 C259.68,42.18 260.27,44.13 260.90,46.90 C261.53,49.67 262.27,55.20 263.00,58.50 C263.73,61.80 264.55,66.43 265.30,66.70 C266.05,66.97 266.87,63.40 267.50,60.10 C268.13,56.80 268.60,49.80 269.10,46.90 C269.60,44.00 270.00,43.25 270.50,42.70 C271.00,42.15 271.50,42.35 272.10,43.60 C272.70,44.85 273.50,46.90 274.10,50.20 C274.70,53.50 275.15,58.17 275.70,63.40 C276.25,68.63 276.85,76.08 277.40,81.60 C277.95,87.12 278.32,92.37 279.00,96.50 C279.68,100.63 280.53,103.92 281.50,106.40 C282.47,108.88 283.72,110.38 284.80,111.40 C285.88,112.42 287.47,112.32 288.00,112.50 L288.00,112.3 Z" fill="#a03444" stroke="#a03444" stroke-width="0.5"/>
<path d="M228.3,112.1 L238.50,112.50 C239.62,112.17 243.40,111.78 245.20,110.50 C247.00,109.22 248.20,107.42 249.30,104.80 C250.40,102.18 250.98,99.50 251.80,94.80 C252.62,90.10 253.38,82.93 254.20,76.60 C255.02,70.27 256.07,62.03 256.70,56.80 C257.33,51.57 257.58,47.68 258.00,45.20 C258.42,42.72 258.72,41.62 259.20,41.90 C259.68,42.18 260.27,44.13 260.90,46.90 C261.53,49.67 262.27,55.20 263.00,58.50 C263.73,61.80 264.55,66.43 265.30,66.70 C266.05,66.97 266.87,63.40 267.50,60.10 C268.13,56.80 268.60,49.80 269.10,46.90 C269.60,44.00 270.00,43.25 270.50,42.70 C271.00,42.15 271.50,42.35 272.10,43.60 C272.70,44.85 273.50,46.90 274.10,50.20 C274.70,53.50 275.15,58.17 275.70,63.40 C276.25,68.63 276.85,76.08 277.40,81.60 C277.95,87.12 278.32,92.37 279.00,96.50 C279.68,100.63 280.53,103.92 281.50,106.40 C282.47,108.88 283.72,110.38 284.80,111.40 C285.88,112.42 287.47,112.32 288.00,112.50 L303.4,112.1" fill="none" stroke="#3f5f8c" stroke-width="1.3" stroke-linejoin="round"/>
<path d="M238.50,194.7 L238.50,194.90 C239.62,194.57 243.40,194.18 245.20,192.90 C247.00,191.62 248.20,189.82 249.30,187.20 C250.40,184.58 250.98,181.90 251.80,177.20 C252.62,172.50 253.38,165.33 254.20,159.00 C255.02,152.67 256.07,144.43 256.70,139.20 C257.33,133.97 257.58,130.08 258.00,127.60 C258.42,125.12 258.72,124.02 259.20,124.30 C259.68,124.58 260.27,126.53 260.90,129.30 C261.53,132.07 262.27,137.60 263.00,140.90 C263.73,144.20 264.55,148.83 265.30,149.10 C266.05,149.37 266.87,145.80 267.50,142.50 C268.13,139.20 268.60,132.20 269.10,129.30 C269.60,126.40 270.00,125.65 270.50,125.10 C271.00,124.55 271.50,124.75 272.10,126.00 C272.70,127.25 273.50,129.30 274.10,132.60 C274.70,135.90 275.15,140.57 275.70,145.80 C276.25,151.03 276.85,158.48 277.40,164.00 C277.95,169.52 278.32,174.77 279.00,178.90 C279.68,183.03 280.53,186.32 281.50,188.80 C282.47,191.28 283.72,192.78 284.80,193.80 C285.88,194.82 287.47,194.72 288.00,194.90 L288.00,194.7 Z" fill="#a03444" stroke="#a03444" stroke-width="0.5"/>
<path d="M228.3,194.6 L238.50,194.80 C239.88,194.33 244.58,193.83 246.80,192.00 C249.02,190.17 250.42,187.65 251.80,183.80 C253.18,179.95 254.13,173.32 255.10,168.90 C256.07,164.48 256.92,160.07 257.60,157.30 C258.28,154.53 258.65,153.53 259.20,152.30 C259.75,151.07 260.35,150.03 260.90,149.90 C261.45,149.77 261.95,150.40 262.50,151.50 C263.05,152.60 263.65,156.50 264.20,156.50 C264.75,156.50 265.12,152.75 265.80,151.50 C266.48,150.25 267.47,150.52 268.30,149.00 C269.13,147.48 270.12,145.15 270.80,142.40 C271.48,139.65 271.85,135.40 272.40,132.50 C272.95,129.60 273.63,126.38 274.10,125.00 C274.57,123.62 274.73,123.92 275.20,124.20 C275.67,124.48 276.33,126.15 276.90,126.70 C277.47,127.25 278.10,125.15 278.60,127.50 C279.10,129.85 279.47,136.12 279.90,140.80 C280.33,145.48 280.70,150.92 281.20,155.60 C281.70,160.28 282.35,164.48 282.90,168.90 C283.45,173.32 283.85,178.38 284.50,182.10 C285.15,185.82 285.92,189.13 286.80,191.20 C287.68,193.27 288.93,193.90 289.80,194.50 C290.67,195.10 291.63,194.75 292.00,194.80 L303.4,194.6" fill="none" stroke="#3f5f8c" stroke-width="1.3" stroke-linejoin="round"/>
<path d="M322.50,112.3 L322.50,112.50 C325.25,112.25 335.00,111.47 339.00,111.00 C343.00,110.53 344.70,110.60 346.50,109.70 C348.30,108.80 348.83,107.53 349.80,105.60 C350.77,103.67 351.47,101.27 352.30,98.10 C353.13,94.93 353.97,91.28 354.80,86.60 C355.63,81.92 356.48,75.23 357.30,70.00 C358.12,64.77 358.88,59.47 359.70,55.20 C360.52,50.93 361.57,46.67 362.20,44.40 C362.83,42.13 363.00,41.47 363.50,41.60 C364.00,41.73 364.53,42.67 365.20,45.20 C365.87,47.73 366.67,51.83 367.50,56.80 C368.33,61.77 369.43,69.48 370.20,75.00 C370.97,80.52 371.37,85.22 372.10,89.90 C372.83,94.58 373.62,99.80 374.60,103.10 C375.58,106.40 376.77,108.18 378.00,109.70 C379.23,111.22 380.83,111.73 382.00,112.20 C383.17,112.67 384.50,112.45 385.00,112.50 L385.00,112.3 Z" fill="#a03444" stroke="#a03444" stroke-width="0.5"/>
<path d="M311.0,112.1 L311.30,104.80 C311.35,106.02 309.73,110.82 311.60,112.10 C313.47,113.38 317.93,112.68 322.50,112.50 C327.07,112.32 335.00,111.47 339.00,111.00 C343.00,110.53 344.70,110.60 346.50,109.70 C348.30,108.80 348.83,107.53 349.80,105.60 C350.77,103.67 351.47,101.27 352.30,98.10 C353.13,94.93 353.97,91.28 354.80,86.60 C355.63,81.92 356.48,75.23 357.30,70.00 C358.12,64.77 358.88,59.47 359.70,55.20 C360.52,50.93 361.57,46.67 362.20,44.40 C362.83,42.13 363.00,41.47 363.50,41.60 C364.00,41.73 364.53,42.67 365.20,45.20 C365.87,47.73 366.67,51.83 367.50,56.80 C368.33,61.77 369.43,69.48 370.20,75.00 C370.97,80.52 371.37,85.22 372.10,89.90 C372.83,94.58 373.62,99.80 374.60,103.10 C375.58,106.40 376.77,108.18 378.00,109.70 C379.23,111.22 380.83,111.73 382.00,112.20 C383.17,112.67 384.50,112.45 385.00,112.50 L386.1,112.1" fill="none" stroke="#3f5f8c" stroke-width="1.3" stroke-linejoin="round"/>
<path d="M322.50,194.7 L322.50,194.90 C325.25,194.65 335.00,193.87 339.00,193.40 C343.00,192.93 344.70,193.00 346.50,192.10 C348.30,191.20 348.83,189.93 349.80,188.00 C350.77,186.07 351.47,183.67 352.30,180.50 C353.13,177.33 353.97,173.68 354.80,169.00 C355.63,164.32 356.48,157.63 357.30,152.40 C358.12,147.17 358.88,141.87 359.70,137.60 C360.52,133.33 361.57,129.07 362.20,126.80 C362.83,124.53 363.00,123.87 363.50,124.00 C364.00,124.13 364.53,125.07 365.20,127.60 C365.87,130.13 366.67,134.23 367.50,139.20 C368.33,144.17 369.43,151.88 370.20,157.40 C370.97,162.92 371.37,167.62 372.10,172.30 C372.83,176.98 373.62,182.20 374.60,185.50 C375.58,188.80 376.77,190.58 378.00,192.10 C379.23,193.62 380.83,194.13 382.00,194.60 C383.17,195.07 384.50,194.85 385.00,194.90 L385.00,194.7 Z" fill="#a03444" stroke="#a03444" stroke-width="0.5"/>
<path d="M311.0,194.6 L311.30,178.80 C311.35,181.43 309.73,191.93 311.60,194.60 C313.47,197.27 319.30,194.95 322.50,194.80 C325.70,194.65 328.03,194.17 330.80,193.70 C333.57,193.23 336.62,192.28 339.10,192.00 C341.58,191.72 343.22,192.28 345.70,192.00 C348.18,191.72 351.80,191.67 354.00,190.30 C356.20,188.93 357.40,186.55 358.90,183.80 C360.40,181.05 361.75,177.38 363.00,173.80 C364.25,170.22 365.43,166.15 366.40,162.30 C367.37,158.45 368.12,154.57 368.80,150.70 C369.48,146.83 369.95,142.68 370.50,139.10 C371.05,135.52 371.50,131.62 372.10,129.20 C372.70,126.78 373.48,125.48 374.10,124.60 C374.72,123.72 375.30,122.87 375.80,123.90 C376.30,124.93 376.60,127.43 377.10,130.80 C377.60,134.17 378.25,139.13 378.80,144.10 C379.35,149.07 379.80,155.10 380.40,160.60 C381.00,166.10 381.80,172.68 382.40,177.10 C383.00,181.52 383.57,185.03 384.00,187.10 C384.43,189.17 384.63,188.22 385.00,189.50 C385.37,190.78 386.00,193.92 386.20,194.80 L386.1,194.6" fill="none" stroke="#3f5f8c" stroke-width="1.3" stroke-linejoin="round"/>
<path d="M431.00,112.3 L431.00,112.50 C431.70,112.03 434.08,111.27 435.20,109.70 C436.32,108.13 436.87,106.68 437.70,103.10 C438.53,99.52 439.37,94.27 440.20,88.20 C441.03,82.13 441.97,73.32 442.70,66.70 C443.43,60.08 444.00,52.68 444.60,48.50 C445.20,44.32 445.67,42.15 446.30,41.60 C446.93,41.05 447.68,42.67 448.40,45.20 C449.12,47.73 449.90,52.12 450.60,56.80 C451.30,61.48 451.93,67.78 452.60,73.30 C453.27,78.82 454.00,84.93 454.60,89.90 C455.20,94.87 455.57,99.80 456.20,103.10 C456.83,106.40 457.48,108.13 458.40,109.70 C459.32,111.27 461.15,112.03 461.70,112.50 L461.70,112.3 Z" fill="#a03444" stroke="#a03444" stroke-width="0.5"/>
<path d="M402.4,112.1 L431.00,112.50 C431.70,112.03 434.08,111.27 435.20,109.70 C436.32,108.13 436.87,106.68 437.70,103.10 C438.53,99.52 439.37,94.27 440.20,88.20 C441.03,82.13 441.97,73.32 442.70,66.70 C443.43,60.08 444.00,52.68 444.60,48.50 C445.20,44.32 445.67,42.15 446.30,41.60 C446.93,41.05 447.68,42.67 448.40,45.20 C449.12,47.73 449.90,52.12 450.60,56.80 C451.30,61.48 451.93,67.78 452.60,73.30 C453.27,78.82 454.00,84.93 454.60,89.90 C455.20,94.87 455.57,99.80 456.20,103.10 C456.83,106.40 457.48,108.13 458.40,109.70 C459.32,111.27 461.15,112.03 461.70,112.50 L477.4,112.1" fill="none" stroke="#3f5f8c" stroke-width="1.3" stroke-linejoin="round"/>
<path d="M442.70,194.7 L442.70,194.80 C443.38,194.33 445.70,193.57 446.80,192.00 C447.90,190.43 448.57,189.25 449.30,185.40 C450.03,181.55 450.60,174.68 451.20,168.90 C451.80,163.12 452.40,155.93 452.90,150.70 C453.40,145.47 453.77,140.53 454.20,137.50 C454.63,134.47 455.00,134.72 455.50,132.50 C456.00,130.28 456.72,123.65 457.20,124.20 C457.68,124.75 458.02,131.12 458.40,135.80 C458.78,140.48 459.10,147.33 459.50,152.30 C459.90,157.27 460.30,161.47 460.80,165.60 C461.30,169.73 461.95,173.80 462.50,177.10 C463.05,180.40 463.42,182.92 464.10,185.40 C464.78,187.88 465.48,190.43 466.60,192.00 C467.72,193.57 470.10,194.33 470.80,194.80 L470.80,194.7 Z" fill="#a03444" stroke="#a03444" stroke-width="0.5"/>
<path d="M402.4,194.6 L431.00,194.80 C431.83,194.48 434.75,194.18 436.00,192.90 C437.25,191.62 437.72,190.00 438.50,187.10 C439.28,184.20 440.00,179.92 440.70,175.50 C441.40,171.08 442.10,165.83 442.70,160.60 C443.30,155.37 443.82,148.52 444.30,144.10 C444.78,139.68 445.23,135.90 445.60,134.10 C445.97,132.30 446.17,133.15 446.50,133.30 C446.83,133.45 447.20,135.97 447.60,135.00 C448.00,134.03 448.48,129.35 448.90,127.50 C449.32,125.65 449.72,123.35 450.10,123.90 C450.48,124.45 450.78,127.58 451.20,130.80 C451.62,134.02 452.15,141.22 452.60,143.20 C453.05,145.18 453.48,142.00 453.90,142.70 C454.32,143.40 454.72,145.38 455.10,147.40 C455.48,149.42 455.73,153.20 456.20,154.80 C456.67,156.40 457.35,155.75 457.90,157.00 C458.45,158.25 458.87,159.77 459.50,162.30 C460.13,164.83 460.98,168.90 461.70,172.20 C462.42,175.50 463.12,179.35 463.80,182.10 C464.48,184.85 465.05,186.90 465.80,188.70 C466.55,190.50 467.20,191.88 468.30,192.90 C469.40,193.92 471.72,194.48 472.40,194.80 L477.4,194.6" fill="none" stroke="#3f5f8c" stroke-width="1.3" stroke-linejoin="round"/>
<rect x="227.8" y="37.0" width="76.0" height="75.7" fill="none" stroke="#111" stroke-width="1.1"/>
<line x1="224.5" y1="112.5" x2="227.4" y2="112.5" stroke="#111" stroke-width="0.95"/>
<line x1="225.9" y1="108.9" x2="227.4" y2="108.9" stroke="#111" stroke-width="0.95"/>
<line x1="225.9" y1="105.3" x2="227.4" y2="105.3" stroke="#111" stroke-width="0.95"/>
<line x1="225.9" y1="101.7" x2="227.4" y2="101.7" stroke="#111" stroke-width="0.95"/>
<line x1="224.5" y1="98.1" x2="227.4" y2="98.1" stroke="#111" stroke-width="0.95"/>
<line x1="225.9" y1="94.5" x2="227.4" y2="94.5" stroke="#111" stroke-width="0.95"/>
<line x1="225.9" y1="90.9" x2="227.4" y2="90.9" stroke="#111" stroke-width="0.95"/>
<line x1="225.9" y1="87.3" x2="227.4" y2="87.3" stroke="#111" stroke-width="0.95"/>
<line x1="224.5" y1="83.7" x2="227.4" y2="83.7" stroke="#111" stroke-width="0.95"/>
<line x1="225.9" y1="80.1" x2="227.4" y2="80.1" stroke="#111" stroke-width="0.95"/>
<line x1="225.9" y1="76.5" x2="227.4" y2="76.5" stroke="#111" stroke-width="0.95"/>
<line x1="225.9" y1="72.9" x2="227.4" y2="72.9" stroke="#111" stroke-width="0.95"/>
<line x1="224.5" y1="69.3" x2="227.4" y2="69.3" stroke="#111" stroke-width="0.95"/>
<line x1="225.9" y1="65.7" x2="227.4" y2="65.7" stroke="#111" stroke-width="0.95"/>
<line x1="225.9" y1="62.1" x2="227.4" y2="62.1" stroke="#111" stroke-width="0.95"/>
<line x1="225.9" y1="58.5" x2="227.4" y2="58.5" stroke="#111" stroke-width="0.95"/>
<line x1="224.5" y1="54.9" x2="227.4" y2="54.9" stroke="#111" stroke-width="0.95"/>
<line x1="225.9" y1="51.3" x2="227.4" y2="51.3" stroke="#111" stroke-width="0.95"/>
<line x1="225.9" y1="47.7" x2="227.4" y2="47.7" stroke="#111" stroke-width="0.95"/>
<line x1="225.9" y1="44.1" x2="227.4" y2="44.1" stroke="#111" stroke-width="0.95"/>
<line x1="224.5" y1="40.5" x2="227.4" y2="40.5" stroke="#111" stroke-width="0.95"/>
<line x1="228.4" y1="113.2" x2="228.4" y2="116.60000000000001" stroke="#111" stroke-width="0.95"/>
<line x1="231.47" y1="113.2" x2="231.47" y2="115.0" stroke="#111" stroke-width="0.95"/>
<line x1="234.55" y1="113.2" x2="234.55" y2="115.0" stroke="#111" stroke-width="0.95"/>
<line x1="236.74" y1="113.2" x2="236.74" y2="115.0" stroke="#111" stroke-width="0.95"/>
<line x1="238.43" y1="113.2" x2="238.43" y2="115.0" stroke="#111" stroke-width="0.95"/>
<line x1="239.82" y1="113.2" x2="239.82" y2="115.0" stroke="#111" stroke-width="0.95"/>
<line x1="240.99" y1="113.2" x2="240.99" y2="115.0" stroke="#111" stroke-width="0.95"/>
<line x1="242.0" y1="113.2" x2="242.0" y2="115.0" stroke="#111" stroke-width="0.95"/>
<line x1="242.9" y1="113.2" x2="242.9" y2="115.0" stroke="#111" stroke-width="0.95"/>
<line x1="243.7" y1="113.2" x2="243.7" y2="116.60000000000001" stroke="#111" stroke-width="0.95"/>
<line x1="248.97" y1="113.2" x2="248.97" y2="115.0" stroke="#111" stroke-width="0.95"/>
<line x1="252.05" y1="113.2" x2="252.05" y2="115.0" stroke="#111" stroke-width="0.95"/>
<line x1="254.24" y1="113.2" x2="254.24" y2="115.0" stroke="#111" stroke-width="0.95"/>
<line x1="255.93" y1="113.2" x2="255.93" y2="115.0" stroke="#111" stroke-width="0.95"/>
<line x1="257.32" y1="113.2" x2="257.32" y2="115.0" stroke="#111" stroke-width="0.95"/>
<line x1="258.49" y1="113.2" x2="258.49" y2="115.0" stroke="#111" stroke-width="0.95"/>
<line x1="259.5" y1="113.2" x2="259.5" y2="115.0" stroke="#111" stroke-width="0.95"/>
<line x1="260.4" y1="113.2" x2="260.4" y2="115.0" stroke="#111" stroke-width="0.95"/>
<line x1="261.2" y1="113.2" x2="261.2" y2="116.60000000000001" stroke="#111" stroke-width="0.95"/>
<line x1="266.47" y1="113.2" x2="266.47" y2="115.0" stroke="#111" stroke-width="0.95"/>
<line x1="269.55" y1="113.2" x2="269.55" y2="115.0" stroke="#111" stroke-width="0.95"/>
<line x1="271.74" y1="113.2" x2="271.74" y2="115.0" stroke="#111" stroke-width="0.95"/>
<line x1="273.43" y1="113.2" x2="273.43" y2="115.0" stroke="#111" stroke-width="0.95"/>
<line x1="274.82" y1="113.2" x2="274.82" y2="115.0" stroke="#111" stroke-width="0.95"/>
<line x1="275.99" y1="113.2" x2="275.99" y2="115.0" stroke="#111" stroke-width="0.95"/>
<line x1="277.0" y1="113.2" x2="277.0" y2="115.0" stroke="#111" stroke-width="0.95"/>
<line x1="277.9" y1="113.2" x2="277.9" y2="115.0" stroke="#111" stroke-width="0.95"/>
<line x1="278.7" y1="113.2" x2="278.7" y2="116.60000000000001" stroke="#111" stroke-width="0.95"/>
<line x1="283.97" y1="113.2" x2="283.97" y2="115.0" stroke="#111" stroke-width="0.95"/>
<line x1="287.05" y1="113.2" x2="287.05" y2="115.0" stroke="#111" stroke-width="0.95"/>
<line x1="289.24" y1="113.2" x2="289.24" y2="115.0" stroke="#111" stroke-width="0.95"/>
<line x1="290.93" y1="113.2" x2="290.93" y2="115.0" stroke="#111" stroke-width="0.95"/>
<line x1="292.32" y1="113.2" x2="292.32" y2="115.0" stroke="#111" stroke-width="0.95"/>
<line x1="293.49" y1="113.2" x2="293.49" y2="115.0" stroke="#111" stroke-width="0.95"/>
<line x1="294.5" y1="113.2" x2="294.5" y2="115.0" stroke="#111" stroke-width="0.95"/>
<line x1="295.4" y1="113.2" x2="295.4" y2="115.0" stroke="#111" stroke-width="0.95"/>
<line x1="296.2" y1="113.2" x2="296.2" y2="116.60000000000001" stroke="#111" stroke-width="0.95"/>
<line x1="301.47" y1="113.2" x2="301.47" y2="115.0" stroke="#111" stroke-width="0.95"/>
<rect x="310.5" y="37.0" width="76.0" height="75.7" fill="none" stroke="#111" stroke-width="1.1"/>
<line x1="307.20000000000005" y1="112.5" x2="310.1" y2="112.5" stroke="#111" stroke-width="0.95"/>
<line x1="308.6" y1="108.9" x2="310.1" y2="108.9" stroke="#111" stroke-width="0.95"/>
<line x1="308.6" y1="105.3" x2="310.1" y2="105.3" stroke="#111" stroke-width="0.95"/>
<line x1="308.6" y1="101.7" x2="310.1" y2="101.7" stroke="#111" stroke-width="0.95"/>
<line x1="307.20000000000005" y1="98.1" x2="310.1" y2="98.1" stroke="#111" stroke-width="0.95"/>
<line x1="308.6" y1="94.5" x2="310.1" y2="94.5" stroke="#111" stroke-width="0.95"/>
<line x1="308.6" y1="90.9" x2="310.1" y2="90.9" stroke="#111" stroke-width="0.95"/>
<line x1="308.6" y1="87.3" x2="310.1" y2="87.3" stroke="#111" stroke-width="0.95"/>
<line x1="307.20000000000005" y1="83.7" x2="310.1" y2="83.7" stroke="#111" stroke-width="0.95"/>
<line x1="308.6" y1="80.1" x2="310.1" y2="80.1" stroke="#111" stroke-width="0.95"/>
<line x1="308.6" y1="76.5" x2="310.1" y2="76.5" stroke="#111" stroke-width="0.95"/>
<line x1="308.6" y1="72.9" x2="310.1" y2="72.9" stroke="#111" stroke-width="0.95"/>
<line x1="307.20000000000005" y1="69.3" x2="310.1" y2="69.3" stroke="#111" stroke-width="0.95"/>
<line x1="308.6" y1="65.7" x2="310.1" y2="65.7" stroke="#111" stroke-width="0.95"/>
<line x1="308.6" y1="62.1" x2="310.1" y2="62.1" stroke="#111" stroke-width="0.95"/>
<line x1="308.6" y1="58.5" x2="310.1" y2="58.5" stroke="#111" stroke-width="0.95"/>
<line x1="307.20000000000005" y1="54.9" x2="310.1" y2="54.9" stroke="#111" stroke-width="0.95"/>
<line x1="308.6" y1="51.3" x2="310.1" y2="51.3" stroke="#111" stroke-width="0.95"/>
<line x1="308.6" y1="47.7" x2="310.1" y2="47.7" stroke="#111" stroke-width="0.95"/>
<line x1="308.6" y1="44.1" x2="310.1" y2="44.1" stroke="#111" stroke-width="0.95"/>
<line x1="307.20000000000005" y1="40.5" x2="310.1" y2="40.5" stroke="#111" stroke-width="0.95"/>
<line x1="311.1" y1="113.2" x2="311.1" y2="116.60000000000001" stroke="#111" stroke-width="0.95"/>
<line x1="314.17" y1="113.2" x2="314.17" y2="115.0" stroke="#111" stroke-width="0.95"/>
<line x1="317.25" y1="113.2" x2="317.25" y2="115.0" stroke="#111" stroke-width="0.95"/>
<line x1="319.44" y1="113.2" x2="319.44" y2="115.0" stroke="#111" stroke-width="0.95"/>
<line x1="321.13" y1="113.2" x2="321.13" y2="115.0" stroke="#111" stroke-width="0.95"/>
<line x1="322.52" y1="113.2" x2="322.52" y2="115.0" stroke="#111" stroke-width="0.95"/>
<line x1="323.69" y1="113.2" x2="323.69" y2="115.0" stroke="#111" stroke-width="0.95"/>
<line x1="324.7" y1="113.2" x2="324.7" y2="115.0" stroke="#111" stroke-width="0.95"/>
<line x1="325.6" y1="113.2" x2="325.6" y2="115.0" stroke="#111" stroke-width="0.95"/>
<line x1="326.4" y1="113.2" x2="326.4" y2="116.60000000000001" stroke="#111" stroke-width="0.95"/>
<line x1="331.67" y1="113.2" x2="331.67" y2="115.0" stroke="#111" stroke-width="0.95"/>
<line x1="334.75" y1="113.2" x2="334.75" y2="115.0" stroke="#111" stroke-width="0.95"/>
<line x1="336.94" y1="113.2" x2="336.94" y2="115.0" stroke="#111" stroke-width="0.95"/>
<line x1="338.63" y1="113.2" x2="338.63" y2="115.0" stroke="#111" stroke-width="0.95"/>
<line x1="340.02" y1="113.2" x2="340.02" y2="115.0" stroke="#111" stroke-width="0.95"/>
<line x1="341.19" y1="113.2" x2="341.19" y2="115.0" stroke="#111" stroke-width="0.95"/>
<line x1="342.2" y1="113.2" x2="342.2" y2="115.0" stroke="#111" stroke-width="0.95"/>
<line x1="343.1" y1="113.2" x2="343.1" y2="115.0" stroke="#111" stroke-width="0.95"/>
<line x1="343.9" y1="113.2" x2="343.9" y2="116.60000000000001" stroke="#111" stroke-width="0.95"/>
<line x1="349.17" y1="113.2" x2="349.17" y2="115.0" stroke="#111" stroke-width="0.95"/>
<line x1="352.25" y1="113.2" x2="352.25" y2="115.0" stroke="#111" stroke-width="0.95"/>
<line x1="354.44" y1="113.2" x2="354.44" y2="115.0" stroke="#111" stroke-width="0.95"/>
<line x1="356.13" y1="113.2" x2="356.13" y2="115.0" stroke="#111" stroke-width="0.95"/>
<line x1="357.52" y1="113.2" x2="357.52" y2="115.0" stroke="#111" stroke-width="0.95"/>
<line x1="358.69" y1="113.2" x2="358.69" y2="115.0" stroke="#111" stroke-width="0.95"/>
<line x1="359.7" y1="113.2" x2="359.7" y2="115.0" stroke="#111" stroke-width="0.95"/>
<line x1="360.6" y1="113.2" x2="360.6" y2="115.0" stroke="#111" stroke-width="0.95"/>
<line x1="361.4" y1="113.2" x2="361.4" y2="116.60000000000001" stroke="#111" stroke-width="0.95"/>
<line x1="366.67" y1="113.2" x2="366.67" y2="115.0" stroke="#111" stroke-width="0.95"/>
<line x1="369.75" y1="113.2" x2="369.75" y2="115.0" stroke="#111" stroke-width="0.95"/>
<line x1="371.94" y1="113.2" x2="371.94" y2="115.0" stroke="#111" stroke-width="0.95"/>
<line x1="373.63" y1="113.2" x2="373.63" y2="115.0" stroke="#111" stroke-width="0.95"/>
<line x1="375.02" y1="113.2" x2="375.02" y2="115.0" stroke="#111" stroke-width="0.95"/>
<line x1="376.19" y1="113.2" x2="376.19" y2="115.0" stroke="#111" stroke-width="0.95"/>
<line x1="377.2" y1="113.2" x2="377.2" y2="115.0" stroke="#111" stroke-width="0.95"/>
<line x1="378.1" y1="113.2" x2="378.1" y2="115.0" stroke="#111" stroke-width="0.95"/>
<line x1="378.9" y1="113.2" x2="378.9" y2="116.60000000000001" stroke="#111" stroke-width="0.95"/>
<line x1="384.17" y1="113.2" x2="384.17" y2="115.0" stroke="#111" stroke-width="0.95"/>
<rect x="227.8" y="119.3" width="76.0" height="75.8" fill="none" stroke="#111" stroke-width="1.1"/>
<line x1="224.5" y1="194.9" x2="227.4" y2="194.9" stroke="#111" stroke-width="0.95"/>
<line x1="225.9" y1="191.3" x2="227.4" y2="191.3" stroke="#111" stroke-width="0.95"/>
<line x1="225.9" y1="187.7" x2="227.4" y2="187.7" stroke="#111" stroke-width="0.95"/>
<line x1="225.9" y1="184.1" x2="227.4" y2="184.1" stroke="#111" stroke-width="0.95"/>
<line x1="224.5" y1="180.5" x2="227.4" y2="180.5" stroke="#111" stroke-width="0.95"/>
<line x1="225.9" y1="176.9" x2="227.4" y2="176.9" stroke="#111" stroke-width="0.95"/>
<line x1="225.9" y1="173.3" x2="227.4" y2="173.3" stroke="#111" stroke-width="0.95"/>
<line x1="225.9" y1="169.7" x2="227.4" y2="169.7" stroke="#111" stroke-width="0.95"/>
<line x1="224.5" y1="166.1" x2="227.4" y2="166.1" stroke="#111" stroke-width="0.95"/>
<line x1="225.9" y1="162.5" x2="227.4" y2="162.5" stroke="#111" stroke-width="0.95"/>
<line x1="225.9" y1="158.9" x2="227.4" y2="158.9" stroke="#111" stroke-width="0.95"/>
<line x1="225.9" y1="155.3" x2="227.4" y2="155.3" stroke="#111" stroke-width="0.95"/>
<line x1="224.5" y1="151.7" x2="227.4" y2="151.7" stroke="#111" stroke-width="0.95"/>
<line x1="225.9" y1="148.1" x2="227.4" y2="148.1" stroke="#111" stroke-width="0.95"/>
<line x1="225.9" y1="144.5" x2="227.4" y2="144.5" stroke="#111" stroke-width="0.95"/>
<line x1="225.9" y1="140.9" x2="227.4" y2="140.9" stroke="#111" stroke-width="0.95"/>
<line x1="224.5" y1="137.3" x2="227.4" y2="137.3" stroke="#111" stroke-width="0.95"/>
<line x1="225.9" y1="133.7" x2="227.4" y2="133.7" stroke="#111" stroke-width="0.95"/>
<line x1="225.9" y1="130.1" x2="227.4" y2="130.1" stroke="#111" stroke-width="0.95"/>
<line x1="225.9" y1="126.5" x2="227.4" y2="126.5" stroke="#111" stroke-width="0.95"/>
<line x1="224.5" y1="122.9" x2="227.4" y2="122.9" stroke="#111" stroke-width="0.95"/>
<line x1="228.4" y1="195.6" x2="228.4" y2="199.0" stroke="#111" stroke-width="0.95"/>
<line x1="231.47" y1="195.6" x2="231.47" y2="197.4" stroke="#111" stroke-width="0.95"/>
<line x1="234.55" y1="195.6" x2="234.55" y2="197.4" stroke="#111" stroke-width="0.95"/>
<line x1="236.74" y1="195.6" x2="236.74" y2="197.4" stroke="#111" stroke-width="0.95"/>
<line x1="238.43" y1="195.6" x2="238.43" y2="197.4" stroke="#111" stroke-width="0.95"/>
<line x1="239.82" y1="195.6" x2="239.82" y2="197.4" stroke="#111" stroke-width="0.95"/>
<line x1="240.99" y1="195.6" x2="240.99" y2="197.4" stroke="#111" stroke-width="0.95"/>
<line x1="242.0" y1="195.6" x2="242.0" y2="197.4" stroke="#111" stroke-width="0.95"/>
<line x1="242.9" y1="195.6" x2="242.9" y2="197.4" stroke="#111" stroke-width="0.95"/>
<line x1="243.7" y1="195.6" x2="243.7" y2="199.0" stroke="#111" stroke-width="0.95"/>
<line x1="248.97" y1="195.6" x2="248.97" y2="197.4" stroke="#111" stroke-width="0.95"/>
<line x1="252.05" y1="195.6" x2="252.05" y2="197.4" stroke="#111" stroke-width="0.95"/>
<line x1="254.24" y1="195.6" x2="254.24" y2="197.4" stroke="#111" stroke-width="0.95"/>
<line x1="255.93" y1="195.6" x2="255.93" y2="197.4" stroke="#111" stroke-width="0.95"/>
<line x1="257.32" y1="195.6" x2="257.32" y2="197.4" stroke="#111" stroke-width="0.95"/>
<line x1="258.49" y1="195.6" x2="258.49" y2="197.4" stroke="#111" stroke-width="0.95"/>
<line x1="259.5" y1="195.6" x2="259.5" y2="197.4" stroke="#111" stroke-width="0.95"/>
<line x1="260.4" y1="195.6" x2="260.4" y2="197.4" stroke="#111" stroke-width="0.95"/>
<line x1="261.2" y1="195.6" x2="261.2" y2="199.0" stroke="#111" stroke-width="0.95"/>
<line x1="266.47" y1="195.6" x2="266.47" y2="197.4" stroke="#111" stroke-width="0.95"/>
<line x1="269.55" y1="195.6" x2="269.55" y2="197.4" stroke="#111" stroke-width="0.95"/>
<line x1="271.74" y1="195.6" x2="271.74" y2="197.4" stroke="#111" stroke-width="0.95"/>
<line x1="273.43" y1="195.6" x2="273.43" y2="197.4" stroke="#111" stroke-width="0.95"/>
<line x1="274.82" y1="195.6" x2="274.82" y2="197.4" stroke="#111" stroke-width="0.95"/>
<line x1="275.99" y1="195.6" x2="275.99" y2="197.4" stroke="#111" stroke-width="0.95"/>
<line x1="277.0" y1="195.6" x2="277.0" y2="197.4" stroke="#111" stroke-width="0.95"/>
<line x1="277.9" y1="195.6" x2="277.9" y2="197.4" stroke="#111" stroke-width="0.95"/>
<line x1="278.7" y1="195.6" x2="278.7" y2="199.0" stroke="#111" stroke-width="0.95"/>
<line x1="283.97" y1="195.6" x2="283.97" y2="197.4" stroke="#111" stroke-width="0.95"/>
<line x1="287.05" y1="195.6" x2="287.05" y2="197.4" stroke="#111" stroke-width="0.95"/>
<line x1="289.24" y1="195.6" x2="289.24" y2="197.4" stroke="#111" stroke-width="0.95"/>
<line x1="290.93" y1="195.6" x2="290.93" y2="197.4" stroke="#111" stroke-width="0.95"/>
<line x1="292.32" y1="195.6" x2="292.32" y2="197.4" stroke="#111" stroke-width="0.95"/>
<line x1="293.49" y1="195.6" x2="293.49" y2="197.4" stroke="#111" stroke-width="0.95"/>
<line x1="294.5" y1="195.6" x2="294.5" y2="197.4" stroke="#111" stroke-width="0.95"/>
<line x1="295.4" y1="195.6" x2="295.4" y2="197.4" stroke="#111" stroke-width="0.95"/>
<line x1="296.2" y1="195.6" x2="296.2" y2="199.0" stroke="#111" stroke-width="0.95"/>
<line x1="301.47" y1="195.6" x2="301.47" y2="197.4" stroke="#111" stroke-width="0.95"/>
<rect x="310.5" y="119.3" width="76.0" height="75.8" fill="none" stroke="#111" stroke-width="1.1"/>
<line x1="307.20000000000005" y1="194.9" x2="310.1" y2="194.9" stroke="#111" stroke-width="0.95"/>
<line x1="308.6" y1="191.3" x2="310.1" y2="191.3" stroke="#111" stroke-width="0.95"/>
<line x1="308.6" y1="187.7" x2="310.1" y2="187.7" stroke="#111" stroke-width="0.95"/>
<line x1="308.6" y1="184.1" x2="310.1" y2="184.1" stroke="#111" stroke-width="0.95"/>
<line x1="307.20000000000005" y1="180.5" x2="310.1" y2="180.5" stroke="#111" stroke-width="0.95"/>
<line x1="308.6" y1="176.9" x2="310.1" y2="176.9" stroke="#111" stroke-width="0.95"/>
<line x1="308.6" y1="173.3" x2="310.1" y2="173.3" stroke="#111" stroke-width="0.95"/>
<line x1="308.6" y1="169.7" x2="310.1" y2="169.7" stroke="#111" stroke-width="0.95"/>
<line x1="307.20000000000005" y1="166.1" x2="310.1" y2="166.1" stroke="#111" stroke-width="0.95"/>
<line x1="308.6" y1="162.5" x2="310.1" y2="162.5" stroke="#111" stroke-width="0.95"/>
<line x1="308.6" y1="158.9" x2="310.1" y2="158.9" stroke="#111" stroke-width="0.95"/>
<line x1="308.6" y1="155.3" x2="310.1" y2="155.3" stroke="#111" stroke-width="0.95"/>
<line x1="307.20000000000005" y1="151.7" x2="310.1" y2="151.7" stroke="#111" stroke-width="0.95"/>
<line x1="308.6" y1="148.1" x2="310.1" y2="148.1" stroke="#111" stroke-width="0.95"/>
<line x1="308.6" y1="144.5" x2="310.1" y2="144.5" stroke="#111" stroke-width="0.95"/>
<line x1="308.6" y1="140.9" x2="310.1" y2="140.9" stroke="#111" stroke-width="0.95"/>
<line x1="307.20000000000005" y1="137.3" x2="310.1" y2="137.3" stroke="#111" stroke-width="0.95"/>
<line x1="308.6" y1="133.7" x2="310.1" y2="133.7" stroke="#111" stroke-width="0.95"/>
<line x1="308.6" y1="130.1" x2="310.1" y2="130.1" stroke="#111" stroke-width="0.95"/>
<line x1="308.6" y1="126.5" x2="310.1" y2="126.5" stroke="#111" stroke-width="0.95"/>
<line x1="307.20000000000005" y1="122.9" x2="310.1" y2="122.9" stroke="#111" stroke-width="0.95"/>
<line x1="311.1" y1="195.6" x2="311.1" y2="199.0" stroke="#111" stroke-width="0.95"/>
<line x1="314.17" y1="195.6" x2="314.17" y2="197.4" stroke="#111" stroke-width="0.95"/>
<line x1="317.25" y1="195.6" x2="317.25" y2="197.4" stroke="#111" stroke-width="0.95"/>
<line x1="319.44" y1="195.6" x2="319.44" y2="197.4" stroke="#111" stroke-width="0.95"/>
<line x1="321.13" y1="195.6" x2="321.13" y2="197.4" stroke="#111" stroke-width="0.95"/>
<line x1="322.52" y1="195.6" x2="322.52" y2="197.4" stroke="#111" stroke-width="0.95"/>
<line x1="323.69" y1="195.6" x2="323.69" y2="197.4" stroke="#111" stroke-width="0.95"/>
<line x1="324.7" y1="195.6" x2="324.7" y2="197.4" stroke="#111" stroke-width="0.95"/>
<line x1="325.6" y1="195.6" x2="325.6" y2="197.4" stroke="#111" stroke-width="0.95"/>
<line x1="326.4" y1="195.6" x2="326.4" y2="199.0" stroke="#111" stroke-width="0.95"/>
<line x1="331.67" y1="195.6" x2="331.67" y2="197.4" stroke="#111" stroke-width="0.95"/>
<line x1="334.75" y1="195.6" x2="334.75" y2="197.4" stroke="#111" stroke-width="0.95"/>
<line x1="336.94" y1="195.6" x2="336.94" y2="197.4" stroke="#111" stroke-width="0.95"/>
<line x1="338.63" y1="195.6" x2="338.63" y2="197.4" stroke="#111" stroke-width="0.95"/>
<line x1="340.02" y1="195.6" x2="340.02" y2="197.4" stroke="#111" stroke-width="0.95"/>
<line x1="341.19" y1="195.6" x2="341.19" y2="197.4" stroke="#111" stroke-width="0.95"/>
<line x1="342.2" y1="195.6" x2="342.2" y2="197.4" stroke="#111" stroke-width="0.95"/>
<line x1="343.1" y1="195.6" x2="343.1" y2="197.4" stroke="#111" stroke-width="0.95"/>
<line x1="343.9" y1="195.6" x2="343.9" y2="199.0" stroke="#111" stroke-width="0.95"/>
<line x1="349.17" y1="195.6" x2="349.17" y2="197.4" stroke="#111" stroke-width="0.95"/>
<line x1="352.25" y1="195.6" x2="352.25" y2="197.4" stroke="#111" stroke-width="0.95"/>
<line x1="354.44" y1="195.6" x2="354.44" y2="197.4" stroke="#111" stroke-width="0.95"/>
<line x1="356.13" y1="195.6" x2="356.13" y2="197.4" stroke="#111" stroke-width="0.95"/>
<line x1="357.52" y1="195.6" x2="357.52" y2="197.4" stroke="#111" stroke-width="0.95"/>
<line x1="358.69" y1="195.6" x2="358.69" y2="197.4" stroke="#111" stroke-width="0.95"/>
<line x1="359.7" y1="195.6" x2="359.7" y2="197.4" stroke="#111" stroke-width="0.95"/>
<line x1="360.6" y1="195.6" x2="360.6" y2="197.4" stroke="#111" stroke-width="0.95"/>
<line x1="361.4" y1="195.6" x2="361.4" y2="199.0" stroke="#111" stroke-width="0.95"/>
<line x1="366.67" y1="195.6" x2="366.67" y2="197.4" stroke="#111" stroke-width="0.95"/>
<line x1="369.75" y1="195.6" x2="369.75" y2="197.4" stroke="#111" stroke-width="0.95"/>
<line x1="371.94" y1="195.6" x2="371.94" y2="197.4" stroke="#111" stroke-width="0.95"/>
<line x1="373.63" y1="195.6" x2="373.63" y2="197.4" stroke="#111" stroke-width="0.95"/>
<line x1="375.02" y1="195.6" x2="375.02" y2="197.4" stroke="#111" stroke-width="0.95"/>
<line x1="376.19" y1="195.6" x2="376.19" y2="197.4" stroke="#111" stroke-width="0.95"/>
<line x1="377.2" y1="195.6" x2="377.2" y2="197.4" stroke="#111" stroke-width="0.95"/>
<line x1="378.1" y1="195.6" x2="378.1" y2="197.4" stroke="#111" stroke-width="0.95"/>
<line x1="378.9" y1="195.6" x2="378.9" y2="199.0" stroke="#111" stroke-width="0.95"/>
<line x1="384.17" y1="195.6" x2="384.17" y2="197.4" stroke="#111" stroke-width="0.95"/>
<rect x="401.9" y="37.0" width="75.90000000000003" height="75.7" fill="none" stroke="#111" stroke-width="1.1"/>
<line x1="398.6" y1="112.5" x2="401.5" y2="112.5" stroke="#111" stroke-width="0.95"/>
<line x1="400.0" y1="108.9" x2="401.5" y2="108.9" stroke="#111" stroke-width="0.95"/>
<line x1="400.0" y1="105.3" x2="401.5" y2="105.3" stroke="#111" stroke-width="0.95"/>
<line x1="400.0" y1="101.7" x2="401.5" y2="101.7" stroke="#111" stroke-width="0.95"/>
<line x1="398.6" y1="98.1" x2="401.5" y2="98.1" stroke="#111" stroke-width="0.95"/>
<line x1="400.0" y1="94.5" x2="401.5" y2="94.5" stroke="#111" stroke-width="0.95"/>
<line x1="400.0" y1="90.9" x2="401.5" y2="90.9" stroke="#111" stroke-width="0.95"/>
<line x1="400.0" y1="87.3" x2="401.5" y2="87.3" stroke="#111" stroke-width="0.95"/>
<line x1="398.6" y1="83.7" x2="401.5" y2="83.7" stroke="#111" stroke-width="0.95"/>
<line x1="400.0" y1="80.1" x2="401.5" y2="80.1" stroke="#111" stroke-width="0.95"/>
<line x1="400.0" y1="76.5" x2="401.5" y2="76.5" stroke="#111" stroke-width="0.95"/>
<line x1="400.0" y1="72.9" x2="401.5" y2="72.9" stroke="#111" stroke-width="0.95"/>
<line x1="398.6" y1="69.3" x2="401.5" y2="69.3" stroke="#111" stroke-width="0.95"/>
<line x1="400.0" y1="65.7" x2="401.5" y2="65.7" stroke="#111" stroke-width="0.95"/>
<line x1="400.0" y1="62.1" x2="401.5" y2="62.1" stroke="#111" stroke-width="0.95"/>
<line x1="400.0" y1="58.5" x2="401.5" y2="58.5" stroke="#111" stroke-width="0.95"/>
<line x1="398.6" y1="54.9" x2="401.5" y2="54.9" stroke="#111" stroke-width="0.95"/>
<line x1="400.0" y1="51.3" x2="401.5" y2="51.3" stroke="#111" stroke-width="0.95"/>
<line x1="400.0" y1="47.7" x2="401.5" y2="47.7" stroke="#111" stroke-width="0.95"/>
<line x1="400.0" y1="44.1" x2="401.5" y2="44.1" stroke="#111" stroke-width="0.95"/>
<line x1="398.6" y1="40.5" x2="401.5" y2="40.5" stroke="#111" stroke-width="0.95"/>
<line x1="402.5" y1="113.2" x2="402.5" y2="116.60000000000001" stroke="#111" stroke-width="0.95"/>
<line x1="405.57" y1="113.2" x2="405.57" y2="115.0" stroke="#111" stroke-width="0.95"/>
<line x1="408.65" y1="113.2" x2="408.65" y2="115.0" stroke="#111" stroke-width="0.95"/>
<line x1="410.84" y1="113.2" x2="410.84" y2="115.0" stroke="#111" stroke-width="0.95"/>
<line x1="412.53" y1="113.2" x2="412.53" y2="115.0" stroke="#111" stroke-width="0.95"/>
<line x1="413.92" y1="113.2" x2="413.92" y2="115.0" stroke="#111" stroke-width="0.95"/>
<line x1="415.09" y1="113.2" x2="415.09" y2="115.0" stroke="#111" stroke-width="0.95"/>
<line x1="416.1" y1="113.2" x2="416.1" y2="115.0" stroke="#111" stroke-width="0.95"/>
<line x1="417.0" y1="113.2" x2="417.0" y2="115.0" stroke="#111" stroke-width="0.95"/>
<line x1="417.8" y1="113.2" x2="417.8" y2="116.60000000000001" stroke="#111" stroke-width="0.95"/>
<line x1="423.07" y1="113.2" x2="423.07" y2="115.0" stroke="#111" stroke-width="0.95"/>
<line x1="426.15" y1="113.2" x2="426.15" y2="115.0" stroke="#111" stroke-width="0.95"/>
<line x1="428.34" y1="113.2" x2="428.34" y2="115.0" stroke="#111" stroke-width="0.95"/>
<line x1="430.03" y1="113.2" x2="430.03" y2="115.0" stroke="#111" stroke-width="0.95"/>
<line x1="431.42" y1="113.2" x2="431.42" y2="115.0" stroke="#111" stroke-width="0.95"/>
<line x1="432.59" y1="113.2" x2="432.59" y2="115.0" stroke="#111" stroke-width="0.95"/>
<line x1="433.6" y1="113.2" x2="433.6" y2="115.0" stroke="#111" stroke-width="0.95"/>
<line x1="434.5" y1="113.2" x2="434.5" y2="115.0" stroke="#111" stroke-width="0.95"/>
<line x1="435.3" y1="113.2" x2="435.3" y2="116.60000000000001" stroke="#111" stroke-width="0.95"/>
<line x1="440.57" y1="113.2" x2="440.57" y2="115.0" stroke="#111" stroke-width="0.95"/>
<line x1="443.65" y1="113.2" x2="443.65" y2="115.0" stroke="#111" stroke-width="0.95"/>
<line x1="445.84" y1="113.2" x2="445.84" y2="115.0" stroke="#111" stroke-width="0.95"/>
<line x1="447.53" y1="113.2" x2="447.53" y2="115.0" stroke="#111" stroke-width="0.95"/>
<line x1="448.92" y1="113.2" x2="448.92" y2="115.0" stroke="#111" stroke-width="0.95"/>
<line x1="450.09" y1="113.2" x2="450.09" y2="115.0" stroke="#111" stroke-width="0.95"/>
<line x1="451.1" y1="113.2" x2="451.1" y2="115.0" stroke="#111" stroke-width="0.95"/>
<line x1="452.0" y1="113.2" x2="452.0" y2="115.0" stroke="#111" stroke-width="0.95"/>
<line x1="452.8" y1="113.2" x2="452.8" y2="116.60000000000001" stroke="#111" stroke-width="0.95"/>
<line x1="458.07" y1="113.2" x2="458.07" y2="115.0" stroke="#111" stroke-width="0.95"/>
<line x1="461.15" y1="113.2" x2="461.15" y2="115.0" stroke="#111" stroke-width="0.95"/>
<line x1="463.34" y1="113.2" x2="463.34" y2="115.0" stroke="#111" stroke-width="0.95"/>
<line x1="465.03" y1="113.2" x2="465.03" y2="115.0" stroke="#111" stroke-width="0.95"/>
<line x1="466.42" y1="113.2" x2="466.42" y2="115.0" stroke="#111" stroke-width="0.95"/>
<line x1="467.59" y1="113.2" x2="467.59" y2="115.0" stroke="#111" stroke-width="0.95"/>
<line x1="468.6" y1="113.2" x2="468.6" y2="115.0" stroke="#111" stroke-width="0.95"/>
<line x1="469.5" y1="113.2" x2="469.5" y2="115.0" stroke="#111" stroke-width="0.95"/>
<line x1="470.3" y1="113.2" x2="470.3" y2="116.60000000000001" stroke="#111" stroke-width="0.95"/>
<line x1="475.57" y1="113.2" x2="475.57" y2="115.0" stroke="#111" stroke-width="0.95"/>
<rect x="401.9" y="119.3" width="75.90000000000003" height="75.8" fill="none" stroke="#111" stroke-width="1.1"/>
<line x1="398.6" y1="194.9" x2="401.5" y2="194.9" stroke="#111" stroke-width="0.95"/>
<line x1="400.0" y1="191.3" x2="401.5" y2="191.3" stroke="#111" stroke-width="0.95"/>
<line x1="400.0" y1="187.7" x2="401.5" y2="187.7" stroke="#111" stroke-width="0.95"/>
<line x1="400.0" y1="184.1" x2="401.5" y2="184.1" stroke="#111" stroke-width="0.95"/>
<line x1="398.6" y1="180.5" x2="401.5" y2="180.5" stroke="#111" stroke-width="0.95"/>
<line x1="400.0" y1="176.9" x2="401.5" y2="176.9" stroke="#111" stroke-width="0.95"/>
<line x1="400.0" y1="173.3" x2="401.5" y2="173.3" stroke="#111" stroke-width="0.95"/>
<line x1="400.0" y1="169.7" x2="401.5" y2="169.7" stroke="#111" stroke-width="0.95"/>
<line x1="398.6" y1="166.1" x2="401.5" y2="166.1" stroke="#111" stroke-width="0.95"/>
<line x1="400.0" y1="162.5" x2="401.5" y2="162.5" stroke="#111" stroke-width="0.95"/>
<line x1="400.0" y1="158.9" x2="401.5" y2="158.9" stroke="#111" stroke-width="0.95"/>
<line x1="400.0" y1="155.3" x2="401.5" y2="155.3" stroke="#111" stroke-width="0.95"/>
<line x1="398.6" y1="151.7" x2="401.5" y2="151.7" stroke="#111" stroke-width="0.95"/>
<line x1="400.0" y1="148.1" x2="401.5" y2="148.1" stroke="#111" stroke-width="0.95"/>
<line x1="400.0" y1="144.5" x2="401.5" y2="144.5" stroke="#111" stroke-width="0.95"/>
<line x1="400.0" y1="140.9" x2="401.5" y2="140.9" stroke="#111" stroke-width="0.95"/>
<line x1="398.6" y1="137.3" x2="401.5" y2="137.3" stroke="#111" stroke-width="0.95"/>
<line x1="400.0" y1="133.7" x2="401.5" y2="133.7" stroke="#111" stroke-width="0.95"/>
<line x1="400.0" y1="130.1" x2="401.5" y2="130.1" stroke="#111" stroke-width="0.95"/>
<line x1="400.0" y1="126.5" x2="401.5" y2="126.5" stroke="#111" stroke-width="0.95"/>
<line x1="398.6" y1="122.9" x2="401.5" y2="122.9" stroke="#111" stroke-width="0.95"/>
<line x1="402.5" y1="195.6" x2="402.5" y2="199.0" stroke="#111" stroke-width="0.95"/>
<line x1="405.57" y1="195.6" x2="405.57" y2="197.4" stroke="#111" stroke-width="0.95"/>
<line x1="408.65" y1="195.6" x2="408.65" y2="197.4" stroke="#111" stroke-width="0.95"/>
<line x1="410.84" y1="195.6" x2="410.84" y2="197.4" stroke="#111" stroke-width="0.95"/>
<line x1="412.53" y1="195.6" x2="412.53" y2="197.4" stroke="#111" stroke-width="0.95"/>
<line x1="413.92" y1="195.6" x2="413.92" y2="197.4" stroke="#111" stroke-width="0.95"/>
<line x1="415.09" y1="195.6" x2="415.09" y2="197.4" stroke="#111" stroke-width="0.95"/>
<line x1="416.1" y1="195.6" x2="416.1" y2="197.4" stroke="#111" stroke-width="0.95"/>
<line x1="417.0" y1="195.6" x2="417.0" y2="197.4" stroke="#111" stroke-width="0.95"/>
<line x1="417.8" y1="195.6" x2="417.8" y2="199.0" stroke="#111" stroke-width="0.95"/>
<line x1="423.07" y1="195.6" x2="423.07" y2="197.4" stroke="#111" stroke-width="0.95"/>
<line x1="426.15" y1="195.6" x2="426.15" y2="197.4" stroke="#111" stroke-width="0.95"/>
<line x1="428.34" y1="195.6" x2="428.34" y2="197.4" stroke="#111" stroke-width="0.95"/>
<line x1="430.03" y1="195.6" x2="430.03" y2="197.4" stroke="#111" stroke-width="0.95"/>
<line x1="431.42" y1="195.6" x2="431.42" y2="197.4" stroke="#111" stroke-width="0.95"/>
<line x1="432.59" y1="195.6" x2="432.59" y2="197.4" stroke="#111" stroke-width="0.95"/>
<line x1="433.6" y1="195.6" x2="433.6" y2="197.4" stroke="#111" stroke-width="0.95"/>
<line x1="434.5" y1="195.6" x2="434.5" y2="197.4" stroke="#111" stroke-width="0.95"/>
<line x1="435.3" y1="195.6" x2="435.3" y2="199.0" stroke="#111" stroke-width="0.95"/>
<line x1="440.57" y1="195.6" x2="440.57" y2="197.4" stroke="#111" stroke-width="0.95"/>
<line x1="443.65" y1="195.6" x2="443.65" y2="197.4" stroke="#111" stroke-width="0.95"/>
<line x1="445.84" y1="195.6" x2="445.84" y2="197.4" stroke="#111" stroke-width="0.95"/>
<line x1="447.53" y1="195.6" x2="447.53" y2="197.4" stroke="#111" stroke-width="0.95"/>
<line x1="448.92" y1="195.6" x2="448.92" y2="197.4" stroke="#111" stroke-width="0.95"/>
<line x1="450.09" y1="195.6" x2="450.09" y2="197.4" stroke="#111" stroke-width="0.95"/>
<line x1="451.1" y1="195.6" x2="451.1" y2="197.4" stroke="#111" stroke-width="0.95"/>
<line x1="452.0" y1="195.6" x2="452.0" y2="197.4" stroke="#111" stroke-width="0.95"/>
<line x1="452.8" y1="195.6" x2="452.8" y2="199.0" stroke="#111" stroke-width="0.95"/>
<line x1="458.07" y1="195.6" x2="458.07" y2="197.4" stroke="#111" stroke-width="0.95"/>
<line x1="461.15" y1="195.6" x2="461.15" y2="197.4" stroke="#111" stroke-width="0.95"/>
<line x1="463.34" y1="195.6" x2="463.34" y2="197.4" stroke="#111" stroke-width="0.95"/>
<line x1="465.03" y1="195.6" x2="465.03" y2="197.4" stroke="#111" stroke-width="0.95"/>
<line x1="466.42" y1="195.6" x2="466.42" y2="197.4" stroke="#111" stroke-width="0.95"/>
<line x1="467.59" y1="195.6" x2="467.59" y2="197.4" stroke="#111" stroke-width="0.95"/>
<line x1="468.6" y1="195.6" x2="468.6" y2="197.4" stroke="#111" stroke-width="0.95"/>
<line x1="469.5" y1="195.6" x2="469.5" y2="197.4" stroke="#111" stroke-width="0.95"/>
<line x1="470.3" y1="195.6" x2="470.3" y2="199.0" stroke="#111" stroke-width="0.95"/>
<line x1="475.57" y1="195.6" x2="475.57" y2="197.4" stroke="#111" stroke-width="0.95"/>
<text x="230.8" y="46.9" font-size="8.2" text-anchor="start" fill="#a8283c" textLength="15" lengthAdjust="spacingAndGlyphs" stroke="#a8283c" stroke-width="0.08">1431</text>
<text x="230.8" y="58.8" font-size="8.2" text-anchor="start" fill="#3d5a86" textLength="15" lengthAdjust="spacingAndGlyphs" stroke="#3d5a86" stroke-width="0.08">1495</text>
<text x="313.3" y="46.9" font-size="8.2" text-anchor="start" fill="#a8283c" textLength="20.6" lengthAdjust="spacingAndGlyphs" stroke="#a8283c" stroke-width="0.08">10986</text>
<text x="313.3" y="58.8" font-size="8.2" text-anchor="start" fill="#3d5a86" textLength="20.6" lengthAdjust="spacingAndGlyphs" stroke="#3d5a86" stroke-width="0.08">11003</text>
<text x="230.8" y="129.3" font-size="8.2" text-anchor="start" fill="#a8283c" textLength="15" lengthAdjust="spacingAndGlyphs" stroke="#a8283c" stroke-width="0.08">1431</text>
<text x="230.8" y="141.4" font-size="8.2" text-anchor="start" fill="#3d5a86" textLength="15" lengthAdjust="spacingAndGlyphs" stroke="#3d5a86" stroke-width="0.08">2693</text>
<text x="313.3" y="129.3" font-size="8.2" text-anchor="start" fill="#a8283c" textLength="20.6" lengthAdjust="spacingAndGlyphs" stroke="#a8283c" stroke-width="0.08">10986</text>
<text x="313.3" y="141.4" font-size="8.2" text-anchor="start" fill="#3d5a86" textLength="20.6" lengthAdjust="spacingAndGlyphs" stroke="#3d5a86" stroke-width="0.08">30622</text>
<text x="406.6" y="49.5" font-size="8.2" text-anchor="start" fill="#a8283c" textLength="15.9" lengthAdjust="spacingAndGlyphs" stroke="#a8283c" stroke-width="0.08">4449</text>
<text x="406.6" y="61.0" font-size="8.2" text-anchor="start" fill="#3d5a86" textLength="15.9" lengthAdjust="spacingAndGlyphs" stroke="#3d5a86" stroke-width="0.08">4560</text>
<text x="405.4" y="129.5" font-size="8.2" text-anchor="start" fill="#a8283c" textLength="18.7" lengthAdjust="spacingAndGlyphs" stroke="#a8283c" stroke-width="0.08">15741</text>
<text x="405.4" y="141.4" font-size="8.2" text-anchor="start" fill="#3d5a86" textLength="15.4" lengthAdjust="spacingAndGlyphs" stroke="#3d5a86" stroke-width="0.08">8103</text>
<line x1="227.1" y1="201.4" x2="299.4" y2="201.4" stroke="#111" stroke-width="1.1"/>
<path d="M303.4,201.4 L297.4,198.8 L298.79999999999995,201.4 L297.4,204.0 Z" fill="#111"/>
<line x1="310.9" y1="201.4" x2="382.2" y2="201.4" stroke="#111" stroke-width="1.1"/>
<path d="M386.2,201.4 L380.2,198.8 L381.59999999999997,201.4 L380.2,204.0 Z" fill="#111"/>
<line x1="401.3" y1="201.4" x2="473.4" y2="201.4" stroke="#111" stroke-width="1.1"/>
<path d="M477.4,201.4 L471.4,198.8 L472.79999999999995,201.4 L471.4,204.0 Z" fill="#111"/>
<text x="259.9" y="212.8" font-size="10" text-anchor="middle" fill="#231f20" textLength="22.3" lengthAdjust="spacingAndGlyphs" stroke="#231f20" stroke-width="0.22">CD69</text>
<text x="343" y="212.8" font-size="10" text-anchor="middle" fill="#231f20" textLength="21.9" lengthAdjust="spacingAndGlyphs" stroke="#231f20" stroke-width="0.22">CD25</text>
<text x="445.4" y="212.8" font-size="10" text-anchor="middle" fill="#231f20" textLength="19.6" lengthAdjust="spacingAndGlyphs" stroke="#231f20" stroke-width="0.22">CFSE</text>
<rect x="481.2" y="38.2" width="7.4" height="7.3" fill="#a03444" stroke="none" stroke-width="1"/>
<text x="492" y="44.0" font-size="7.6" text-anchor="start" fill="#231f20" textLength="19.2" lengthAdjust="spacingAndGlyphs" stroke="#231f20" stroke-width="0.22">No Ag</text>
<rect x="481.7" y="50.8" width="6.4" height="6.2" fill="none" stroke="#2f4f7f" stroke-width="1.3"/>
<text x="492" y="55.8" font-size="7.6" text-anchor="start" fill="#231f20" textLength="16" lengthAdjust="spacingAndGlyphs" stroke="#231f20" stroke-width="0.22">ULFP</text>
<rect x="480.8" y="119.9" width="7.6" height="7.6" fill="#a03444" stroke="none" stroke-width="1"/>
<text x="491.8" y="126.1" font-size="7.6" text-anchor="start" fill="#231f20" textLength="19.5" lengthAdjust="spacingAndGlyphs" stroke="#231f20" stroke-width="0.22">No Ag</text>
<rect x="481.5" y="133.2" width="6.3" height="6.3" fill="none" stroke="#2f4f7f" stroke-width="1.3"/>
<text x="492" y="139.2" font-size="7.6" text-anchor="start" fill="#231f20" textLength="11.3" lengthAdjust="spacingAndGlyphs" stroke="#231f20" stroke-width="0.22">LFP</text>
<line x1="46.45" y1="265.8" x2="46.45" y2="338.90000000000003" stroke="#2a2a2a" stroke-width="1.3"/>
<line x1="45.85" y1="338.3" x2="116.05" y2="338.3" stroke="#2a2a2a" stroke-width="1.3"/>
<line x1="43.650000000000006" y1="268.9" x2="46.45" y2="268.9" stroke="#2a2a2a" stroke-width="1.1"/>
<text x="40.75" y="272.09999999999997" font-size="8.2" text-anchor="end" fill="#231f20" textLength="16.4" lengthAdjust="spacingAndGlyphs" stroke="#231f20" stroke-width="0.22">4000</text>
<line x1="43.650000000000006" y1="286.25" x2="46.45" y2="286.25" stroke="#2a2a2a" stroke-width="1.1"/>
<text x="40.75" y="289.45" font-size="8.2" text-anchor="end" fill="#231f20" textLength="16.4" lengthAdjust="spacingAndGlyphs" stroke="#231f20" stroke-width="0.22">3000</text>
<line x1="43.650000000000006" y1="303.6" x2="46.45" y2="303.6" stroke="#2a2a2a" stroke-width="1.1"/>
<text x="40.75" y="306.8" font-size="8.2" text-anchor="end" fill="#231f20" textLength="16.4" lengthAdjust="spacingAndGlyphs" stroke="#231f20" stroke-width="0.22">2000</text>
<line x1="43.650000000000006" y1="320.95" x2="46.45" y2="320.95" stroke="#2a2a2a" stroke-width="1.1"/>
<text x="40.75" y="324.15" font-size="8.2" text-anchor="end" fill="#231f20" textLength="16.4" lengthAdjust="spacingAndGlyphs" stroke="#231f20" stroke-width="0.22">1000</text>
<line x1="43.650000000000006" y1="338.3" x2="46.45" y2="338.3" stroke="#2a2a2a" stroke-width="1.1"/>
<text x="40.75" y="341.5" font-size="8.2" text-anchor="end" fill="#231f20" textLength="4.1" lengthAdjust="spacingAndGlyphs" stroke="#231f20" stroke-width="0.22">0</text>
<text x="49.650000000000006" y="272.79999999999995" font-size="6.6" text-anchor="start" fill="#231f20" stroke="#231f20" stroke-width="0.22">GM-CSF</text>
<line x1="58.199999999999996" y1="336.8" x2="58.199999999999996" y2="337.9" stroke="#333" stroke-width="1.15"/>
<line x1="54.4" y1="336.8" x2="61.9" y2="336.8" stroke="#333" stroke-width="1.2"/>
<rect x="50.25" y="337.4" width="15.3" height="0.9000000000000341" fill="#a03444" stroke="#8e2234" stroke-width="0.5"/>
<line x1="81.4" y1="336.2" x2="81.4" y2="337.4" stroke="#333" stroke-width="1.15"/>
<line x1="77.60000000000001" y1="336.2" x2="85.10000000000001" y2="336.2" stroke="#333" stroke-width="1.2"/>
<rect x="73.45" y="336.9" width="15.3" height="1.400000000000034" fill="#4e6582" stroke="#3f5573" stroke-width="0.5"/>
<line x1="104.7" y1="280.0" x2="104.7" y2="283.0" stroke="#333" stroke-width="1.15"/>
<line x1="100.9" y1="280.0" x2="108.4" y2="280.0" stroke="#333" stroke-width="1.2"/>
<rect x="96.75" y="282.5" width="15.3" height="55.80000000000001" fill="#7aa85c" stroke="#6a9a4c" stroke-width="0.5"/>
<line x1="82.55000000000001" y1="277.5" x2="105.55000000000001" y2="277.5" stroke="#555" stroke-width="1.2"/>
<circle cx="92.45" cy="273.70" r="1.2" fill="#4a4a4a"/>
<circle cx="95.65" cy="273.70" r="1.2" fill="#4a4a4a"/>
<text x="15.8" y="301.9" font-size="9.4" text-anchor="middle" fill="#231f20" textLength="24.5" lengthAdjust="spacingAndGlyphs" transform="rotate(-90 15.8 301.9)" stroke="#231f20" stroke-width="0.22">pg/ml</text>
<line x1="164.8" y1="265.8" x2="164.8" y2="338.90000000000003" stroke="#2a2a2a" stroke-width="1.3"/>
<line x1="164.20000000000002" y1="338.3" x2="234.4" y2="338.3" stroke="#2a2a2a" stroke-width="1.3"/>
<line x1="162.0" y1="268.8" x2="164.8" y2="268.8" stroke="#2a2a2a" stroke-width="1.1"/>
<text x="159.10000000000002" y="272.0" font-size="8.2" text-anchor="end" fill="#231f20" textLength="16.4" lengthAdjust="spacingAndGlyphs" stroke="#231f20" stroke-width="0.22">1500</text>
<line x1="162.0" y1="291.97" x2="164.8" y2="291.97" stroke="#2a2a2a" stroke-width="1.1"/>
<text x="159.10000000000002" y="295.17" font-size="8.2" text-anchor="end" fill="#231f20" textLength="16.4" lengthAdjust="spacingAndGlyphs" stroke="#231f20" stroke-width="0.22">1000</text>
<line x1="162.0" y1="315.13" x2="164.8" y2="315.13" stroke="#2a2a2a" stroke-width="1.1"/>
<text x="159.10000000000002" y="318.33" font-size="8.2" text-anchor="end" fill="#231f20" textLength="12.3" lengthAdjust="spacingAndGlyphs" stroke="#231f20" stroke-width="0.22">500</text>
<line x1="162.0" y1="338.3" x2="164.8" y2="338.3" stroke="#2a2a2a" stroke-width="1.1"/>
<text x="159.10000000000002" y="341.5" font-size="8.2" text-anchor="end" fill="#231f20" textLength="4.1" lengthAdjust="spacingAndGlyphs" stroke="#231f20" stroke-width="0.22">0</text>
<text x="168.0" y="272.7" font-size="6.6" text-anchor="start" fill="#231f20" stroke="#231f20" stroke-width="0.22">IL-8</text>
<line x1="176.55000000000004" y1="335.8" x2="176.55000000000004" y2="337.4" stroke="#333" stroke-width="1.15"/>
<line x1="172.75000000000003" y1="335.8" x2="180.25000000000003" y2="335.8" stroke="#333" stroke-width="1.2"/>
<rect x="168.60000000000002" y="336.9" width="15.3" height="1.400000000000034" fill="#a03444" stroke="#8e2234" stroke-width="0.5"/>
<line x1="199.75000000000003" y1="336.8" x2="199.75000000000003" y2="337.9" stroke="#333" stroke-width="1.15"/>
<line x1="195.95000000000002" y1="336.8" x2="203.45000000000002" y2="336.8" stroke="#333" stroke-width="1.2"/>
<rect x="191.8" y="337.4" width="15.3" height="0.9000000000000341" fill="#4e6582" stroke="#3f5573" stroke-width="0.5"/>
<line x1="223.05000000000004" y1="283.0" x2="223.05000000000004" y2="291.3" stroke="#333" stroke-width="1.15"/>
<line x1="219.25000000000003" y1="283.0" x2="226.75000000000003" y2="283.0" stroke="#333" stroke-width="1.2"/>
<rect x="215.10000000000002" y="290.8" width="15.3" height="47.5" fill="#7aa85c" stroke="#6a9a4c" stroke-width="0.5"/>
<line x1="201.0" y1="280.5" x2="223.60000000000002" y2="280.5" stroke="#555" stroke-width="1.2"/>
<circle cx="210.70" cy="276.70" r="1.2" fill="#4a4a4a"/>
<circle cx="213.90" cy="276.70" r="1.2" fill="#4a4a4a"/>
<text x="134.3" y="301.9" font-size="9.4" text-anchor="middle" fill="#231f20" textLength="24.5" lengthAdjust="spacingAndGlyphs" transform="rotate(-90 134.3 301.9)" stroke="#231f20" stroke-width="0.22">pg/ml</text>
<line x1="283.0" y1="265.8" x2="283.0" y2="338.90000000000003" stroke="#2a2a2a" stroke-width="1.3"/>
<line x1="282.4" y1="338.3" x2="352.6" y2="338.3" stroke="#2a2a2a" stroke-width="1.3"/>
<line x1="280.2" y1="268.8" x2="283.0" y2="268.8" stroke="#2a2a2a" stroke-width="1.1"/>
<text x="277.3" y="272.0" font-size="8.2" text-anchor="end" fill="#231f20" textLength="16.4" lengthAdjust="spacingAndGlyphs" stroke="#231f20" stroke-width="0.22">2500</text>
<line x1="280.2" y1="282.7" x2="283.0" y2="282.7" stroke="#2a2a2a" stroke-width="1.1"/>
<text x="277.3" y="285.9" font-size="8.2" text-anchor="end" fill="#231f20" textLength="16.4" lengthAdjust="spacingAndGlyphs" stroke="#231f20" stroke-width="0.22">2000</text>
<line x1="280.2" y1="296.6" x2="283.0" y2="296.6" stroke="#2a2a2a" stroke-width="1.1"/>
<text x="277.3" y="299.8" font-size="8.2" text-anchor="end" fill="#231f20" textLength="16.4" lengthAdjust="spacingAndGlyphs" stroke="#231f20" stroke-width="0.22">1500</text>
<line x1="280.2" y1="310.5" x2="283.0" y2="310.5" stroke="#2a2a2a" stroke-width="1.1"/>
<text x="277.3" y="313.7" font-size="8.2" text-anchor="end" fill="#231f20" textLength="16.4" lengthAdjust="spacingAndGlyphs" stroke="#231f20" stroke-width="0.22">1000</text>
<line x1="280.2" y1="324.4" x2="283.0" y2="324.4" stroke="#2a2a2a" stroke-width="1.1"/>
<text x="277.3" y="327.59999999999997" font-size="8.2" text-anchor="end" fill="#231f20" textLength="12.3" lengthAdjust="spacingAndGlyphs" stroke="#231f20" stroke-width="0.22">500</text>
<line x1="280.2" y1="338.3" x2="283.0" y2="338.3" stroke="#2a2a2a" stroke-width="1.1"/>
<text x="277.3" y="341.5" font-size="8.2" text-anchor="end" fill="#231f20" textLength="4.1" lengthAdjust="spacingAndGlyphs" stroke="#231f20" stroke-width="0.22">0</text>
<text x="286.2" y="272.7" font-size="6.6" text-anchor="start" fill="#231f20" stroke="#231f20" stroke-width="0.22">TNF-α</text>
<line x1="294.75" y1="337.2" x2="294.75" y2="338.1" stroke="#333" stroke-width="1.15"/>
<line x1="290.95" y1="337.2" x2="298.45" y2="337.2" stroke="#333" stroke-width="1.2"/>
<rect x="286.8" y="337.6" width="15.3" height="0.6999999999999886" fill="#a03444" stroke="#8e2234" stroke-width="0.5"/>
<line x1="317.95" y1="336.8" x2="317.95" y2="337.8" stroke="#333" stroke-width="1.15"/>
<line x1="314.15" y1="336.8" x2="321.65" y2="336.8" stroke="#333" stroke-width="1.2"/>
<rect x="310.0" y="337.3" width="15.3" height="1.0" fill="#4e6582" stroke="#3f5573" stroke-width="0.5"/>
<line x1="341.25" y1="282.5" x2="341.25" y2="284.8" stroke="#333" stroke-width="1.15"/>
<line x1="337.45" y1="282.5" x2="344.95" y2="282.5" stroke="#333" stroke-width="1.2"/>
<rect x="333.3" y="284.3" width="15.3" height="54.0" fill="#7aa85c" stroke="#6a9a4c" stroke-width="0.5"/>
<line x1="319.0" y1="279.5" x2="342.3" y2="279.5" stroke="#555" stroke-width="1.2"/>
<circle cx="329.05" cy="275.70" r="1.2" fill="#4a4a4a"/>
<circle cx="332.25" cy="275.70" r="1.2" fill="#4a4a4a"/>
<text x="252.5" y="301.9" font-size="9.4" text-anchor="middle" fill="#231f20" textLength="24.5" lengthAdjust="spacingAndGlyphs" transform="rotate(-90 252.5 301.9)" stroke="#231f20" stroke-width="0.22">pg/ml</text>
<line x1="406.0" y1="265.8" x2="406.0" y2="338.90000000000003" stroke="#2a2a2a" stroke-width="1.3"/>
<line x1="405.4" y1="338.3" x2="475.6" y2="338.3" stroke="#2a2a2a" stroke-width="1.3"/>
<line x1="403.2" y1="268.7" x2="406.0" y2="268.7" stroke="#2a2a2a" stroke-width="1.1"/>
<text x="400.3" y="271.9" font-size="8.2" text-anchor="end" fill="#231f20" textLength="20.5" lengthAdjust="spacingAndGlyphs" stroke="#231f20" stroke-width="0.22">25000</text>
<line x1="403.2" y1="282.62" x2="406.0" y2="282.62" stroke="#2a2a2a" stroke-width="1.1"/>
<text x="400.3" y="285.82" font-size="8.2" text-anchor="end" fill="#231f20" textLength="20.5" lengthAdjust="spacingAndGlyphs" stroke="#231f20" stroke-width="0.22">20000</text>
<line x1="403.2" y1="296.54" x2="406.0" y2="296.54" stroke="#2a2a2a" stroke-width="1.1"/>
<text x="400.3" y="299.74" font-size="8.2" text-anchor="end" fill="#231f20" textLength="20.5" lengthAdjust="spacingAndGlyphs" stroke="#231f20" stroke-width="0.22">15000</text>
<line x1="403.2" y1="310.46" x2="406.0" y2="310.46" stroke="#2a2a2a" stroke-width="1.1"/>
<text x="400.3" y="313.65999999999997" font-size="8.2" text-anchor="end" fill="#231f20" textLength="20.5" lengthAdjust="spacingAndGlyphs" stroke="#231f20" stroke-width="0.22">10000</text>
<line x1="403.2" y1="324.38" x2="406.0" y2="324.38" stroke="#2a2a2a" stroke-width="1.1"/>
<text x="400.3" y="327.58" font-size="8.2" text-anchor="end" fill="#231f20" textLength="16.4" lengthAdjust="spacingAndGlyphs" stroke="#231f20" stroke-width="0.22">5000</text>
<line x1="403.2" y1="338.3" x2="406.0" y2="338.3" stroke="#2a2a2a" stroke-width="1.1"/>
<text x="400.3" y="341.5" font-size="8.2" text-anchor="end" fill="#231f20" textLength="4.1" lengthAdjust="spacingAndGlyphs" stroke="#231f20" stroke-width="0.22">0</text>
<text x="409.2" y="272.59999999999997" font-size="6.6" text-anchor="start" fill="#231f20" stroke="#231f20" stroke-width="0.22">IFN-γ</text>
<line x1="417.75" y1="337.2" x2="417.75" y2="338.1" stroke="#333" stroke-width="1.15"/>
<line x1="413.95" y1="337.2" x2="421.45" y2="337.2" stroke="#333" stroke-width="1.2"/>
<rect x="409.8" y="337.6" width="15.3" height="0.6999999999999886" fill="#a03444" stroke="#8e2234" stroke-width="0.5"/>
<line x1="440.95" y1="332.0" x2="440.95" y2="335.0" stroke="#333" stroke-width="1.15"/>
<line x1="437.15" y1="332.0" x2="444.65" y2="332.0" stroke="#333" stroke-width="1.2"/>
<rect x="433.0" y="334.5" width="15.3" height="3.8000000000000114" fill="#4e6582" stroke="#3f5573" stroke-width="0.5"/>
<line x1="464.25" y1="268.7" x2="464.25" y2="270.5" stroke="#333" stroke-width="1.15"/>
<line x1="460.45" y1="268.7" x2="467.95" y2="268.7" stroke="#333" stroke-width="1.2"/>
<rect x="456.3" y="270.0" width="15.3" height="68.30000000000001" fill="#7aa85c" stroke="#6a9a4c" stroke-width="0.5"/>
<line x1="442.1" y1="267.5" x2="464.6" y2="267.5" stroke="#555" stroke-width="1.2"/>
<circle cx="451.75" cy="263.70" r="1.2" fill="#4a4a4a"/>
<circle cx="454.95" cy="263.70" r="1.2" fill="#4a4a4a"/>
<text x="369.6" y="301.9" font-size="9.4" text-anchor="middle" fill="#231f20" textLength="24.5" lengthAdjust="spacingAndGlyphs" transform="rotate(-90 369.6 301.9)" stroke="#231f20" stroke-width="0.22">pg/ml</text>
<line x1="46.45" y1="354.5" x2="46.45" y2="426.90000000000003" stroke="#2a2a2a" stroke-width="1.3"/>
<line x1="45.85" y1="426.3" x2="116.05" y2="426.3" stroke="#2a2a2a" stroke-width="1.3"/>
<line x1="43.650000000000006" y1="357.5" x2="46.45" y2="357.5" stroke="#2a2a2a" stroke-width="1.1"/>
<text x="40.75" y="360.7" font-size="8.2" text-anchor="end" fill="#231f20" textLength="8.2" lengthAdjust="spacingAndGlyphs" stroke="#231f20" stroke-width="0.22">15</text>
<line x1="43.650000000000006" y1="380.43" x2="46.45" y2="380.43" stroke="#2a2a2a" stroke-width="1.1"/>
<text x="40.75" y="383.63" font-size="8.2" text-anchor="end" fill="#231f20" textLength="8.2" lengthAdjust="spacingAndGlyphs" stroke="#231f20" stroke-width="0.22">10</text>
<line x1="43.650000000000006" y1="403.37" x2="46.45" y2="403.37" stroke="#2a2a2a" stroke-width="1.1"/>
<text x="40.75" y="406.57" font-size="8.2" text-anchor="end" fill="#231f20" textLength="4.1" lengthAdjust="spacingAndGlyphs" stroke="#231f20" stroke-width="0.22">5</text>
<line x1="43.650000000000006" y1="426.3" x2="46.45" y2="426.3" stroke="#2a2a2a" stroke-width="1.1"/>
<text x="40.75" y="429.5" font-size="8.2" text-anchor="end" fill="#231f20" textLength="4.1" lengthAdjust="spacingAndGlyphs" stroke="#231f20" stroke-width="0.22">0</text>
<text x="49.650000000000006" y="361.4" font-size="6.6" text-anchor="start" fill="#231f20" stroke="#231f20" stroke-width="0.22">IL-2</text>
<rect x="50.25" y="423.8" width="15.3" height="2.5" fill="#a03444" stroke="#8e2234" stroke-width="0.5"/>
<rect x="73.45" y="425.0" width="15.3" height="1.3000000000000114" fill="#4e6582" stroke="#3f5573" stroke-width="0.5"/>
<line x1="104.7" y1="381.3" x2="104.7" y2="393.5" stroke="#333" stroke-width="1.15"/>
<line x1="100.9" y1="381.3" x2="108.4" y2="381.3" stroke="#333" stroke-width="1.2"/>
<rect x="96.75" y="393.0" width="15.3" height="33.30000000000001" fill="#7aa85c" stroke="#6a9a4c" stroke-width="0.5"/>
<line x1="82.55000000000001" y1="378.0" x2="105.55000000000001" y2="378.0" stroke="#555" stroke-width="1.2"/>
<circle cx="94.05" cy="374.20" r="1.2" fill="#4a4a4a"/>
<text x="25.5" y="390" font-size="9.4" text-anchor="middle" fill="#231f20" textLength="24.5" lengthAdjust="spacingAndGlyphs" transform="rotate(-90 25.5 390)" stroke="#231f20" stroke-width="0.22">pg/ml</text>
<line x1="164.8" y1="354.5" x2="164.8" y2="426.90000000000003" stroke="#2a2a2a" stroke-width="1.3"/>
<line x1="164.20000000000002" y1="426.3" x2="234.4" y2="426.3" stroke="#2a2a2a" stroke-width="1.3"/>
<line x1="162.0" y1="357.5" x2="164.8" y2="357.5" stroke="#2a2a2a" stroke-width="1.1"/>
<text x="159.10000000000002" y="360.7" font-size="8.2" text-anchor="end" fill="#231f20" textLength="8.2" lengthAdjust="spacingAndGlyphs" stroke="#231f20" stroke-width="0.22">15</text>
<line x1="162.0" y1="380.43" x2="164.8" y2="380.43" stroke="#2a2a2a" stroke-width="1.1"/>
<text x="159.10000000000002" y="383.63" font-size="8.2" text-anchor="end" fill="#231f20" textLength="8.2" lengthAdjust="spacingAndGlyphs" stroke="#231f20" stroke-width="0.22">10</text>
<line x1="162.0" y1="403.37" x2="164.8" y2="403.37" stroke="#2a2a2a" stroke-width="1.1"/>
<text x="159.10000000000002" y="406.57" font-size="8.2" text-anchor="end" fill="#231f20" textLength="4.1" lengthAdjust="spacingAndGlyphs" stroke="#231f20" stroke-width="0.22">5</text>
<line x1="162.0" y1="426.3" x2="164.8" y2="426.3" stroke="#2a2a2a" stroke-width="1.1"/>
<text x="159.10000000000002" y="429.5" font-size="8.2" text-anchor="end" fill="#231f20" textLength="4.1" lengthAdjust="spacingAndGlyphs" stroke="#231f20" stroke-width="0.22">0</text>
<text x="168.0" y="361.4" font-size="6.6" text-anchor="start" fill="#231f20" stroke="#231f20" stroke-width="0.22">IL-6</text>
<line x1="176.55000000000004" y1="423.0" x2="176.55000000000004" y2="424.3" stroke="#333" stroke-width="1.15"/>
<line x1="172.75000000000003" y1="423.0" x2="180.25000000000003" y2="423.0" stroke="#333" stroke-width="1.2"/>
<rect x="168.60000000000002" y="423.8" width="15.3" height="2.5" fill="#a03444" stroke="#8e2234" stroke-width="0.5"/>
<line x1="199.75000000000003" y1="424.6" x2="199.75000000000003" y2="425.5" stroke="#333" stroke-width="1.15"/>
<line x1="195.95000000000002" y1="424.6" x2="203.45000000000002" y2="424.6" stroke="#333" stroke-width="1.2"/>
<rect x="191.8" y="425.0" width="15.3" height="1.3000000000000114" fill="#4e6582" stroke="#3f5573" stroke-width="0.5"/>
<line x1="223.05000000000004" y1="364.5" x2="223.05000000000004" y2="385.5" stroke="#333" stroke-width="1.15"/>
<line x1="219.25000000000003" y1="364.5" x2="226.75000000000003" y2="364.5" stroke="#333" stroke-width="1.2"/>
<rect x="215.10000000000002" y="385.0" width="15.3" height="41.30000000000001" fill="#7aa85c" stroke="#6a9a4c" stroke-width="0.5"/>
<line x1="201.0" y1="361.3" x2="223.60000000000002" y2="361.3" stroke="#555" stroke-width="1.2"/>
<circle cx="212.30" cy="357.50" r="1.2" fill="#4a4a4a"/>
<text x="145.5" y="390" font-size="9.4" text-anchor="middle" fill="#231f20" textLength="24.5" lengthAdjust="spacingAndGlyphs" transform="rotate(-90 145.5 390)" stroke="#231f20" stroke-width="0.22">pg/ml</text>
<line x1="283.0" y1="354.5" x2="283.0" y2="426.90000000000003" stroke="#2a2a2a" stroke-width="1.3"/>
<line x1="282.4" y1="426.3" x2="352.6" y2="426.3" stroke="#2a2a2a" stroke-width="1.3"/>
<line x1="280.2" y1="357.5" x2="283.0" y2="357.5" stroke="#2a2a2a" stroke-width="1.1"/>
<text x="277.3" y="360.7" font-size="8.2" text-anchor="end" fill="#231f20" textLength="4.1" lengthAdjust="spacingAndGlyphs" stroke="#231f20" stroke-width="0.22">3</text>
<line x1="280.2" y1="380.43" x2="283.0" y2="380.43" stroke="#2a2a2a" stroke-width="1.1"/>
<text x="277.3" y="383.63" font-size="8.2" text-anchor="end" fill="#231f20" textLength="4.1" lengthAdjust="spacingAndGlyphs" stroke="#231f20" stroke-width="0.22">2</text>
<line x1="280.2" y1="403.37" x2="283.0" y2="403.37" stroke="#2a2a2a" stroke-width="1.1"/>
<text x="277.3" y="406.57" font-size="8.2" text-anchor="end" fill="#231f20" textLength="4.1" lengthAdjust="spacingAndGlyphs" stroke="#231f20" stroke-width="0.22">1</text>
<line x1="280.2" y1="426.3" x2="283.0" y2="426.3" stroke="#2a2a2a" stroke-width="1.1"/>
<text x="277.3" y="429.5" font-size="8.2" text-anchor="end" fill="#231f20" textLength="4.1" lengthAdjust="spacingAndGlyphs" stroke="#231f20" stroke-width="0.22">0</text>
<text x="286.2" y="361.4" font-size="6.6" text-anchor="start" fill="#231f20" stroke="#231f20" stroke-width="0.22">IL-1β</text>
<rect x="286.8" y="415.0" width="15.3" height="11.300000000000011" fill="#a03444" stroke="#8e2234" stroke-width="0.5"/>
<rect x="310.0" y="416.3" width="15.3" height="10.0" fill="#4e6582" stroke="#3f5573" stroke-width="0.5"/>
<line x1="341.25" y1="380.0" x2="341.25" y2="397.3" stroke="#333" stroke-width="1.15"/>
<line x1="337.45" y1="380.0" x2="344.95" y2="380.0" stroke="#333" stroke-width="1.2"/>
<rect x="333.3" y="396.8" width="15.3" height="29.5" fill="#7aa85c" stroke="#6a9a4c" stroke-width="0.5"/>
<line x1="321.0" y1="376.8" x2="343.3" y2="376.8" stroke="#555" stroke-width="1.2"/>
<text x="332.15" y="373.7" font-size="7.6" text-anchor="middle" fill="#231f20" textLength="7.3" lengthAdjust="spacingAndGlyphs" stroke="#231f20" stroke-width="0.22">ns</text>
<text x="266.0" y="390" font-size="9.4" text-anchor="middle" fill="#231f20" textLength="24.5" lengthAdjust="spacingAndGlyphs" transform="rotate(-90 266.0 390)" stroke="#231f20" stroke-width="0.22">pg/ml</text>
<line x1="406.0" y1="354.5" x2="406.0" y2="426.90000000000003" stroke="#2a2a2a" stroke-width="1.3"/>
<line x1="405.4" y1="426.3" x2="475.6" y2="426.3" stroke="#2a2a2a" stroke-width="1.3"/>
<line x1="403.2" y1="357.5" x2="406.0" y2="357.5" stroke="#2a2a2a" stroke-width="1.1"/>
<text x="400.3" y="360.7" font-size="8.2" text-anchor="end" fill="#231f20" textLength="4.1" lengthAdjust="spacingAndGlyphs" stroke="#231f20" stroke-width="0.22">4</text>
<line x1="403.2" y1="374.7" x2="406.0" y2="374.7" stroke="#2a2a2a" stroke-width="1.1"/>
<text x="400.3" y="377.9" font-size="8.2" text-anchor="end" fill="#231f20" textLength="4.1" lengthAdjust="spacingAndGlyphs" stroke="#231f20" stroke-width="0.22">3</text>
<line x1="403.2" y1="391.9" x2="406.0" y2="391.9" stroke="#2a2a2a" stroke-width="1.1"/>
<text x="400.3" y="395.09999999999997" font-size="8.2" text-anchor="end" fill="#231f20" textLength="4.1" lengthAdjust="spacingAndGlyphs" stroke="#231f20" stroke-width="0.22">2</text>
<line x1="403.2" y1="409.1" x2="406.0" y2="409.1" stroke="#2a2a2a" stroke-width="1.1"/>
<text x="400.3" y="412.3" font-size="8.2" text-anchor="end" fill="#231f20" textLength="4.1" lengthAdjust="spacingAndGlyphs" stroke="#231f20" stroke-width="0.22">1</text>
<line x1="403.2" y1="426.3" x2="406.0" y2="426.3" stroke="#2a2a2a" stroke-width="1.1"/>
<text x="400.3" y="429.5" font-size="8.2" text-anchor="end" fill="#231f20" textLength="4.1" lengthAdjust="spacingAndGlyphs" stroke="#231f20" stroke-width="0.22">0</text>
<text x="409.2" y="361.4" font-size="6.6" text-anchor="start" fill="#231f20" stroke="#231f20" stroke-width="0.22">IL-12</text>
<rect x="409.8" y="420.8" width="15.3" height="5.5" fill="#a03444" stroke="#8e2234" stroke-width="0.5"/>
<rect x="433.0" y="418.8" width="15.3" height="7.5" fill="#4e6582" stroke="#3f5573" stroke-width="0.5"/>
<line x1="464.25" y1="397.5" x2="464.25" y2="407.5" stroke="#333" stroke-width="1.15"/>
<line x1="460.45" y1="397.5" x2="467.95" y2="397.5" stroke="#333" stroke-width="1.2"/>
<rect x="456.3" y="407.0" width="15.3" height="19.30000000000001" fill="#7aa85c" stroke="#6a9a4c" stroke-width="0.5"/>
<line x1="443.1" y1="394.4" x2="466.4" y2="394.4" stroke="#555" stroke-width="1.2"/>
<text x="454.75" y="391.29999999999995" font-size="7.6" text-anchor="middle" fill="#231f20" textLength="7.3" lengthAdjust="spacingAndGlyphs" stroke="#231f20" stroke-width="0.22">ns</text>
<text x="388.0" y="390" font-size="9.4" text-anchor="middle" fill="#231f20" textLength="24.5" lengthAdjust="spacingAndGlyphs" transform="rotate(-90 388.0 390)" stroke="#231f20" stroke-width="0.22">pg/ml</text>
<line x1="46.45" y1="442.5" x2="46.45" y2="516.1" stroke="#2a2a2a" stroke-width="1.3"/>
<line x1="45.85" y1="515.5" x2="116.05" y2="515.5" stroke="#2a2a2a" stroke-width="1.3"/>
<line x1="43.650000000000006" y1="445.8" x2="46.45" y2="445.8" stroke="#2a2a2a" stroke-width="1.1"/>
<text x="40.75" y="449.0" font-size="8.2" text-anchor="end" fill="#231f20" textLength="16.4" lengthAdjust="spacingAndGlyphs" stroke="#231f20" stroke-width="0.22">3000</text>
<line x1="43.650000000000006" y1="469.03" x2="46.45" y2="469.03" stroke="#2a2a2a" stroke-width="1.1"/>
<text x="40.75" y="472.22999999999996" font-size="8.2" text-anchor="end" fill="#231f20" textLength="16.4" lengthAdjust="spacingAndGlyphs" stroke="#231f20" stroke-width="0.22">2000</text>
<line x1="43.650000000000006" y1="492.27" x2="46.45" y2="492.27" stroke="#2a2a2a" stroke-width="1.1"/>
<text x="40.75" y="495.46999999999997" font-size="8.2" text-anchor="end" fill="#231f20" textLength="16.4" lengthAdjust="spacingAndGlyphs" stroke="#231f20" stroke-width="0.22">1000</text>
<line x1="43.650000000000006" y1="515.5" x2="46.45" y2="515.5" stroke="#2a2a2a" stroke-width="1.1"/>
<text x="40.75" y="518.7" font-size="8.2" text-anchor="end" fill="#231f20" textLength="4.1" lengthAdjust="spacingAndGlyphs" stroke="#231f20" stroke-width="0.22">0</text>
<text x="49.650000000000006" y="449.7" font-size="6.6" text-anchor="start" fill="#231f20" stroke="#231f20" stroke-width="0.22">IL-4</text>
<line x1="104.7" y1="452.0" x2="104.7" y2="466.8" stroke="#333" stroke-width="1.15"/>
<line x1="100.9" y1="452.0" x2="108.4" y2="452.0" stroke="#333" stroke-width="1.2"/>
<rect x="96.75" y="466.3" width="15.3" height="49.19999999999999" fill="#7aa85c" stroke="#6a9a4c" stroke-width="0.5"/>
<line x1="82.55000000000001" y1="448.0" x2="105.55000000000001" y2="448.0" stroke="#555" stroke-width="1.2"/>
<circle cx="92.45" cy="444.20" r="1.2" fill="#4a4a4a"/>
<circle cx="95.65" cy="444.20" r="1.2" fill="#4a4a4a"/>
<text x="15.6" y="478.8" font-size="9.4" text-anchor="middle" fill="#231f20" textLength="24.5" lengthAdjust="spacingAndGlyphs" transform="rotate(-90 15.6 478.8)" stroke="#231f20" stroke-width="0.22">pg/ml</text>
<line x1="164.8" y1="442.5" x2="164.8" y2="516.1" stroke="#2a2a2a" stroke-width="1.3"/>
<line x1="164.20000000000002" y1="515.5" x2="234.4" y2="515.5" stroke="#2a2a2a" stroke-width="1.3"/>
<line x1="162.0" y1="445.8" x2="164.8" y2="445.8" stroke="#2a2a2a" stroke-width="1.1"/>
<text x="159.10000000000002" y="449.0" font-size="8.2" text-anchor="end" fill="#231f20" textLength="16.4" lengthAdjust="spacingAndGlyphs" stroke="#231f20" stroke-width="0.22">2000</text>
<line x1="162.0" y1="463.23" x2="164.8" y2="463.23" stroke="#2a2a2a" stroke-width="1.1"/>
<text x="159.10000000000002" y="466.43" font-size="8.2" text-anchor="end" fill="#231f20" textLength="16.4" lengthAdjust="spacingAndGlyphs" stroke="#231f20" stroke-width="0.22">1500</text>
<line x1="162.0" y1="480.65" x2="164.8" y2="480.65" stroke="#2a2a2a" stroke-width="1.1"/>
<text x="159.10000000000002" y="483.84999999999997" font-size="8.2" text-anchor="end" fill="#231f20" textLength="16.4" lengthAdjust="spacingAndGlyphs" stroke="#231f20" stroke-width="0.22">1000</text>
<line x1="162.0" y1="498.07" x2="164.8" y2="498.07" stroke="#2a2a2a" stroke-width="1.1"/>
<text x="159.10000000000002" y="501.27" font-size="8.2" text-anchor="end" fill="#231f20" textLength="12.3" lengthAdjust="spacingAndGlyphs" stroke="#231f20" stroke-width="0.22">500</text>
<line x1="162.0" y1="515.5" x2="164.8" y2="515.5" stroke="#2a2a2a" stroke-width="1.1"/>
<text x="159.10000000000002" y="518.7" font-size="8.2" text-anchor="end" fill="#231f20" textLength="4.1" lengthAdjust="spacingAndGlyphs" stroke="#231f20" stroke-width="0.22">0</text>
<text x="168.0" y="449.7" font-size="6.6" text-anchor="start" fill="#231f20" stroke="#231f20" stroke-width="0.22">IL-5</text>
<line x1="176.55000000000004" y1="514.8" x2="176.55000000000004" y2="515.5" stroke="#333" stroke-width="1.15"/>
<line x1="172.75000000000003" y1="514.8" x2="180.25000000000003" y2="514.8" stroke="#333" stroke-width="1.2"/>
<rect x="168.60000000000002" y="515.0" width="15.3" height="0.5" fill="#a03444" stroke="#8e2234" stroke-width="0.5"/>
<line x1="199.75000000000003" y1="513.3" x2="199.75000000000003" y2="514.8" stroke="#333" stroke-width="1.15"/>
<line x1="195.95000000000002" y1="513.3" x2="203.45000000000002" y2="513.3" stroke="#333" stroke-width="1.2"/>
<rect x="191.8" y="514.3" width="15.3" height="1.2000000000000455" fill="#4e6582" stroke="#3f5573" stroke-width="0.5"/>
<line x1="223.05000000000004" y1="459.5" x2="223.05000000000004" y2="469.8" stroke="#333" stroke-width="1.15"/>
<line x1="219.25000000000003" y1="459.5" x2="226.75000000000003" y2="459.5" stroke="#333" stroke-width="1.2"/>
<rect x="215.10000000000002" y="469.3" width="15.3" height="46.19999999999999" fill="#7aa85c" stroke="#6a9a4c" stroke-width="0.5"/>
<line x1="201.0" y1="457.0" x2="223.60000000000002" y2="457.0" stroke="#555" stroke-width="1.2"/>
<circle cx="210.70" cy="453.20" r="1.2" fill="#4a4a4a"/>
<circle cx="213.90" cy="453.20" r="1.2" fill="#4a4a4a"/>
<text x="134.2" y="478.8" font-size="9.4" text-anchor="middle" fill="#231f20" textLength="24.5" lengthAdjust="spacingAndGlyphs" transform="rotate(-90 134.2 478.8)" stroke="#231f20" stroke-width="0.22">pg/ml</text>
<line x1="283.0" y1="442.5" x2="283.0" y2="516.1" stroke="#2a2a2a" stroke-width="1.3"/>
<line x1="282.4" y1="515.5" x2="352.6" y2="515.5" stroke="#2a2a2a" stroke-width="1.3"/>
<line x1="280.2" y1="445.8" x2="283.0" y2="445.8" stroke="#2a2a2a" stroke-width="1.1"/>
<text x="277.3" y="449.0" font-size="8.2" text-anchor="end" fill="#231f20" textLength="12.3" lengthAdjust="spacingAndGlyphs" stroke="#231f20" stroke-width="0.22">800</text>
<line x1="280.2" y1="463.23" x2="283.0" y2="463.23" stroke="#2a2a2a" stroke-width="1.1"/>
<text x="277.3" y="466.43" font-size="8.2" text-anchor="end" fill="#231f20" textLength="12.3" lengthAdjust="spacingAndGlyphs" stroke="#231f20" stroke-width="0.22">600</text>
<line x1="280.2" y1="480.65" x2="283.0" y2="480.65" stroke="#2a2a2a" stroke-width="1.1"/>
<text x="277.3" y="483.84999999999997" font-size="8.2" text-anchor="end" fill="#231f20" textLength="12.3" lengthAdjust="spacingAndGlyphs" stroke="#231f20" stroke-width="0.22">400</text>
<line x1="280.2" y1="498.07" x2="283.0" y2="498.07" stroke="#2a2a2a" stroke-width="1.1"/>
<text x="277.3" y="501.27" font-size="8.2" text-anchor="end" fill="#231f20" textLength="12.3" lengthAdjust="spacingAndGlyphs" stroke="#231f20" stroke-width="0.22">200</text>
<line x1="280.2" y1="515.5" x2="283.0" y2="515.5" stroke="#2a2a2a" stroke-width="1.1"/>
<text x="277.3" y="518.7" font-size="8.2" text-anchor="end" fill="#231f20" textLength="4.1" lengthAdjust="spacingAndGlyphs" stroke="#231f20" stroke-width="0.22">0</text>
<text x="286.2" y="449.7" font-size="6.6" text-anchor="start" fill="#231f20" stroke="#231f20" stroke-width="0.22">IL-10</text>
<line x1="294.75" y1="514.6" x2="294.75" y2="516.0" stroke="#333" stroke-width="1.15"/>
<line x1="290.95" y1="514.6" x2="298.45" y2="514.6" stroke="#333" stroke-width="1.2"/>
<line x1="341.25" y1="451.3" x2="341.25" y2="470.5" stroke="#333" stroke-width="1.15"/>
<line x1="337.45" y1="451.3" x2="344.95" y2="451.3" stroke="#333" stroke-width="1.2"/>
<rect x="333.3" y="470.0" width="15.3" height="45.5" fill="#7aa85c" stroke="#6a9a4c" stroke-width="0.5"/>
<line x1="320.3" y1="448.8" x2="342.8" y2="448.8" stroke="#555" stroke-width="1.2"/>
<circle cx="331.55" cy="445.00" r="1.2" fill="#4a4a4a"/>
<text x="256.8" y="478.8" font-size="9.4" text-anchor="middle" fill="#231f20" textLength="24.5" lengthAdjust="spacingAndGlyphs" transform="rotate(-90 256.8 478.8)" stroke="#231f20" stroke-width="0.22">pg/ml</text>
<line x1="406.0" y1="442.5" x2="406.0" y2="516.1" stroke="#2a2a2a" stroke-width="1.3"/>
<line x1="405.4" y1="515.5" x2="475.6" y2="515.5" stroke="#2a2a2a" stroke-width="1.3"/>
<line x1="403.2" y1="445.8" x2="406.0" y2="445.8" stroke="#2a2a2a" stroke-width="1.1"/>
<text x="400.3" y="449.0" font-size="8.2" text-anchor="end" fill="#231f20" textLength="16.4" lengthAdjust="spacingAndGlyphs" stroke="#231f20" stroke-width="0.22">2000</text>
<line x1="403.2" y1="463.23" x2="406.0" y2="463.23" stroke="#2a2a2a" stroke-width="1.1"/>
<text x="400.3" y="466.43" font-size="8.2" text-anchor="end" fill="#231f20" textLength="16.4" lengthAdjust="spacingAndGlyphs" stroke="#231f20" stroke-width="0.22">1500</text>
<line x1="403.2" y1="480.65" x2="406.0" y2="480.65" stroke="#2a2a2a" stroke-width="1.1"/>
<text x="400.3" y="483.84999999999997" font-size="8.2" text-anchor="end" fill="#231f20" textLength="16.4" lengthAdjust="spacingAndGlyphs" stroke="#231f20" stroke-width="0.22">1000</text>
<line x1="403.2" y1="498.07" x2="406.0" y2="498.07" stroke="#2a2a2a" stroke-width="1.1"/>
<text x="400.3" y="501.27" font-size="8.2" text-anchor="end" fill="#231f20" textLength="12.3" lengthAdjust="spacingAndGlyphs" stroke="#231f20" stroke-width="0.22">500</text>
<line x1="403.2" y1="515.5" x2="406.0" y2="515.5" stroke="#2a2a2a" stroke-width="1.1"/>
<text x="400.3" y="518.7" font-size="8.2" text-anchor="end" fill="#231f20" textLength="4.1" lengthAdjust="spacingAndGlyphs" stroke="#231f20" stroke-width="0.22">0</text>
<text x="409.2" y="449.7" font-size="6.6" text-anchor="start" fill="#231f20" stroke="#231f20" stroke-width="0.22">IL-13</text>
<line x1="417.75" y1="512.0" x2="417.75" y2="513.8" stroke="#333" stroke-width="1.15"/>
<line x1="413.95" y1="512.0" x2="421.45" y2="512.0" stroke="#333" stroke-width="1.2"/>
<rect x="409.8" y="513.3" width="15.3" height="2.2000000000000455" fill="#a03444" stroke="#8e2234" stroke-width="0.5"/>
<line x1="440.95" y1="507.5" x2="440.95" y2="511.0" stroke="#333" stroke-width="1.15"/>
<line x1="437.15" y1="507.5" x2="444.65" y2="507.5" stroke="#333" stroke-width="1.2"/>
<rect x="433.0" y="510.5" width="15.3" height="5.0" fill="#4e6582" stroke="#3f5573" stroke-width="0.5"/>
<line x1="464.25" y1="449.5" x2="464.25" y2="454.8" stroke="#333" stroke-width="1.15"/>
<line x1="460.45" y1="449.5" x2="467.95" y2="449.5" stroke="#333" stroke-width="1.2"/>
<rect x="456.3" y="454.3" width="15.3" height="61.19999999999999" fill="#7aa85c" stroke="#6a9a4c" stroke-width="0.5"/>
<line x1="442.6" y1="446.3" x2="465.1" y2="446.3" stroke="#555" stroke-width="1.2"/>
<circle cx="452.25" cy="442.50" r="1.2" fill="#4a4a4a"/>
<circle cx="455.45" cy="442.50" r="1.2" fill="#4a4a4a"/>
<text x="374.3" y="478.8" font-size="9.4" text-anchor="middle" fill="#231f20" textLength="24.5" lengthAdjust="spacingAndGlyphs" transform="rotate(-90 374.3 478.8)" stroke="#231f20" stroke-width="0.22">pg/ml</text>
<text x="59.25" y="523.9" font-size="8" text-anchor="end" fill="#231f20" textLength="39.12" lengthAdjust="spacingAndGlyphs" stroke="#231f20" stroke-width="0.2" transform="rotate(-34 59.25 523.9)">iNKT, No Ag</text>
<text x="85.25" y="523.9" font-size="8" text-anchor="end" fill="#231f20" textLength="41.66" lengthAdjust="spacingAndGlyphs" stroke="#231f20" stroke-width="0.2" transform="rotate(-34 85.25 523.9)">iNKT + ULFP</text>
<text x="108.65" y="523.9" font-size="8" text-anchor="end" fill="#231f20" textLength="36.58" lengthAdjust="spacingAndGlyphs" stroke="#231f20" stroke-width="0.2" transform="rotate(-34 108.65 523.9)">iNKT + LFP</text>
<text x="177.6" y="523.9" font-size="8" text-anchor="end" fill="#231f20" textLength="39.12" lengthAdjust="spacingAndGlyphs" stroke="#231f20" stroke-width="0.2" transform="rotate(-34 177.6 523.9)">iNKT, No Ag</text>
<text x="203.6" y="523.9" font-size="8" text-anchor="end" fill="#231f20" textLength="41.66" lengthAdjust="spacingAndGlyphs" stroke="#231f20" stroke-width="0.2" transform="rotate(-34 203.6 523.9)">iNKT + ULFP</text>
<text x="227.0" y="523.9" font-size="8" text-anchor="end" fill="#231f20" textLength="36.58" lengthAdjust="spacingAndGlyphs" stroke="#231f20" stroke-width="0.2" transform="rotate(-34 227.0 523.9)">iNKT + LFP</text>
<text x="295.8" y="523.9" font-size="8" text-anchor="end" fill="#231f20" textLength="39.12" lengthAdjust="spacingAndGlyphs" stroke="#231f20" stroke-width="0.2" transform="rotate(-34 295.8 523.9)">iNKT, No Ag</text>
<text x="321.8" y="523.9" font-size="8" text-anchor="end" fill="#231f20" textLength="41.66" lengthAdjust="spacingAndGlyphs" stroke="#231f20" stroke-width="0.2" transform="rotate(-34 321.8 523.9)">iNKT + ULFP</text>
<text x="345.2" y="523.9" font-size="8" text-anchor="end" fill="#231f20" textLength="36.58" lengthAdjust="spacingAndGlyphs" stroke="#231f20" stroke-width="0.2" transform="rotate(-34 345.2 523.9)">iNKT + LFP</text>
<text x="418.8" y="523.9" font-size="8" text-anchor="end" fill="#231f20" textLength="39.12" lengthAdjust="spacingAndGlyphs" stroke="#231f20" stroke-width="0.2" transform="rotate(-34 418.8 523.9)">iNKT, No Ag</text>
<text x="444.8" y="523.9" font-size="8" text-anchor="end" fill="#231f20" textLength="41.66" lengthAdjust="spacingAndGlyphs" stroke="#231f20" stroke-width="0.2" transform="rotate(-34 444.8 523.9)">iNKT + ULFP</text>
<text x="468.2" y="523.9" font-size="8" text-anchor="end" fill="#231f20" textLength="36.58" lengthAdjust="spacingAndGlyphs" stroke="#231f20" stroke-width="0.2" transform="rotate(-34 468.2 523.9)">iNKT + LFP</text>
<rect x="0" y="0" width="520" height="1" fill="#0a0a0a"/>
<rect x="0" y="0" width="1" height="560" fill="#4a4a4a"/>
<rect x="1" y="1" width="0.6" height="558" fill="#9a9a9a"/>
<rect x="519" y="0" width="1" height="560" fill="#444"/>
<rect x="518.4" y="1" width="0.6" height="558" fill="#aaa"/>
<rect x="0" y="559" width="520" height="1" fill="#444"/>
<rect x="1" y="558.4" width="518" height="0.6" fill="#aaa"/>
</svg>
</body></html>
